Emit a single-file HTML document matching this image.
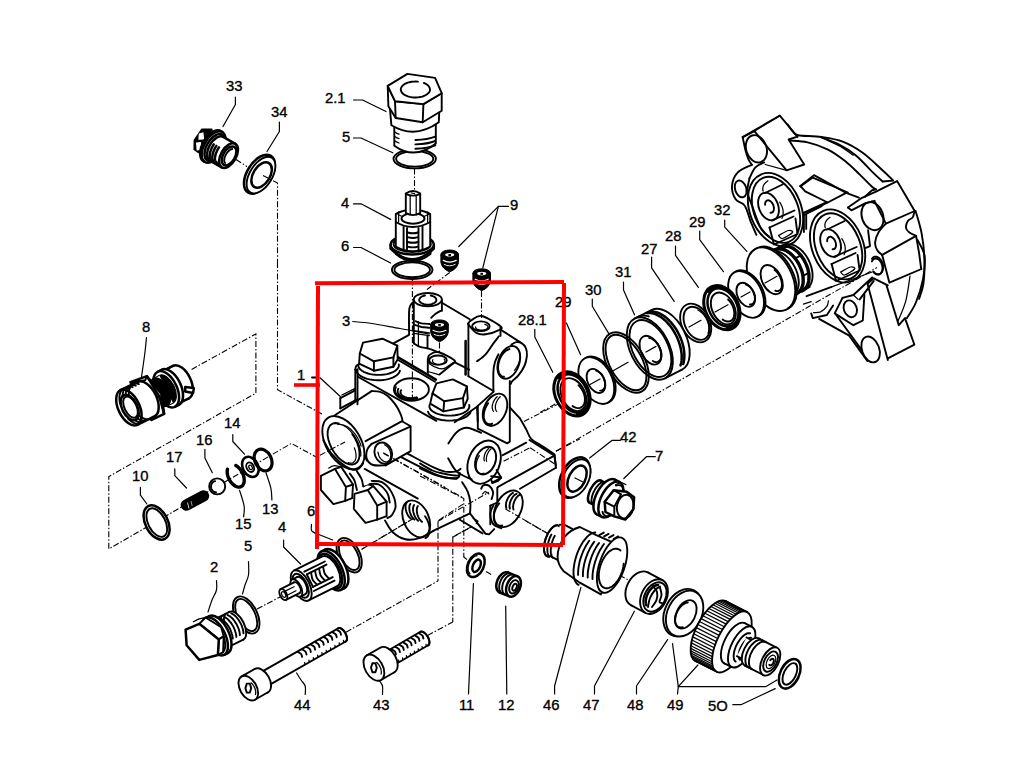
<!DOCTYPE html>
<html><head><meta charset="utf-8"><title>Exploded view</title>
<style>
html,body{margin:0;padding:0;background:#fff;}
body{width:1024px;height:768px;overflow:hidden;font-family:"Liberation Sans",sans-serif;}
svg{display:block;}
svg text{font-family:"Liberation Sans",sans-serif;font-size:14.8px;fill:#000;stroke:#000;stroke-width:0.35;}
.k{fill:none;stroke:#000;stroke-width:1.9;stroke-linecap:round;stroke-linejoin:round;}
.w{fill:#fff;stroke:#000;stroke-width:1.9;stroke-linecap:round;stroke-linejoin:round;}
.t{fill:none;stroke:#000;stroke-width:1.25;stroke-linecap:round;stroke-linejoin:round;}
.tw{fill:#fff;stroke:#000;stroke-width:1.25;stroke-linecap:round;stroke-linejoin:round;}
.h{fill:none;stroke:#000;stroke-width:2.5;stroke-linecap:round;stroke-linejoin:round;}
.hw{fill:#fff;stroke:#000;stroke-width:2.5;stroke-linecap:round;stroke-linejoin:round;}
.l{fill:none;stroke:#000;stroke-width:1.2;stroke-linecap:round;stroke-linejoin:round;}
.d{fill:none;stroke:#000;stroke-width:1.1;stroke-dasharray:6 2 1.5 2;}
.b{fill:#000;stroke:#000;stroke-width:1;stroke-linejoin:round;}
.r{fill:none;stroke:#f00;stroke-width:4;}
</style></head><body>
<svg width="1024" height="768" viewBox="0 0 1024 768">
<rect x="0" y="0" width="1024" height="768" fill="#fff"/>
<!-- 10_topleft.svg -->
<g id="topleft">
<path class="l" d="M235.4 97 L235.4 104.5 L223 126.5"/>
<path class="l" d="M279.4 122 L279.4 131.5 L267 151.5"/>
<path d="M201.9 129.3 L211.8 129.3 L213 141 L207 153.4 L198.4 152.4 L194.2 149.4 L194.4 140.3 Z" fill="#000" stroke="#000" stroke-width="1.6" stroke-linejoin="round"/>
<path d="M198.8 133.6 L203.4 132.3 L204.2 139.4 L198.3 139.8 Z" fill="#fff"/>
<path d="M196 142.4 L201 142.1 L201.6 150 L196.6 150.6 Z" fill="#fff"/>
<ellipse class="hw" cx="212.1" cy="146.1" rx="9.5" ry="17.3" transform="rotate(30 212.1 146.1)"/>
<path d="M203.4 161 L205 161.9 L222.3 132 L220.7 131.1 Z" fill="#fff" stroke="none"/>
<line class="h" x1="203.4" y1="161" x2="205" y2="161.9"/>
<line class="h" x1="220.7" y1="131.1" x2="222.3" y2="132"/>
<ellipse class="hw" cx="213.6" cy="147" rx="9.5" ry="17.3" transform="rotate(30 213.6 147)"/>
<ellipse class="hw" cx="214.8" cy="147.6" rx="8.3" ry="14.8" transform="rotate(30 214.8 147.6)"/>
<ellipse class="hw" cx="216.4" cy="148.6" rx="7.5" ry="13.6" transform="rotate(30 216.4 148.6)"/>
<path d="M209.6 160.3 L221.7 167.3 L235.3 143.8 L223.2 136.8 Z" fill="#fff" stroke="none"/>
<line class="h" x1="209.6" y1="160.3" x2="221.7" y2="167.3"/>
<line class="h" x1="223.2" y1="136.8" x2="235.3" y2="143.8"/>
<path class="h" d="M216.4 162 L215.6 162.1 L214.8 162.2 L214 162.2 L213.3 162.1 L212.6 161.8 L212 161.5 L211.5 161 L211 160.5 L210.6 159.8 L210.3 159.1 L210 158.3 L209.8 157.4 L209.7 156.5 L209.7 155.5 L209.8 154.4 L210 153.3 L210.2 152.2 L210.5 151.1 L210.9 149.9 L211.4 148.8 L211.9 147.6 L212.5 146.5 L213.1 145.4 L213.8 144.4"/>
<path class="h" d="M219 163.5 L218.2 163.6 L217.4 163.7 L216.6 163.7 L215.9 163.6 L215.2 163.3 L214.6 163 L214.1 162.5 L213.6 162 L213.2 161.3 L212.9 160.6 L212.6 159.8 L212.4 158.9 L212.3 158 L212.3 157 L212.4 155.9 L212.6 154.8 L212.8 153.7 L213.1 152.6 L213.5 151.4 L214 150.3 L214.5 149.1 L215.1 148 L215.7 146.9 L216.4 145.9"/>
<path class="h" d="M221.6 165 L220.8 165.1 L220 165.2 L219.2 165.2 L218.5 165.1 L217.8 164.8 L217.2 164.5 L216.7 164 L216.2 163.5 L215.8 162.8 L215.5 162.1 L215.2 161.3 L215 160.4 L214.9 159.5 L214.9 158.5 L215 157.4 L215.2 156.3 L215.4 155.2 L215.7 154.1 L216.1 152.9 L216.6 151.8 L217.1 150.6 L217.7 149.5 L218.3 148.4 L219 147.4"/>
<ellipse class="hw" cx="228.5" cy="155.6" rx="7.6" ry="13.6" transform="rotate(30 228.5 155.6)"/>
<ellipse class="hw" cx="229.1" cy="155.9" rx="5.9" ry="10.4" transform="rotate(30 229.1 155.9)"/>
<path class="k" d="M225.1 163 L224.8 162.6 L224.5 162.1 L224.4 161.6 L224.3 161 L224.2 160.3 L224.3 159.6 L224.4 158.9 L224.5 158.1 L224.7 157.3 L225 156.5 L225.4 155.7 L225.7 154.9 L226.2 154.1 L226.7 153.3 L227.2 152.6 L227.7 151.9 L228.3 151.3 L228.9 150.8 L229.5 150.3 L230 149.8 L230.6 149.5 L231.2 149.2 L231.8 149.1 L232.3 149"/>
<ellipse class="hw" cx="259.4" cy="174.2" rx="12.2" ry="21.6" transform="rotate(32 259.4 174.2)"/>
<ellipse class="w" cx="261" cy="175.1" rx="11.2" ry="20.4" transform="rotate(32 261 175.1)"/>
<ellipse class="hw" cx="261.6" cy="175" rx="8.4" ry="14" transform="rotate(32 261.6 175)"/>
<path class="d" d="M236 159.5 L247 166.5"/>
<path class="d" d="M263 175.5 L277.5 183 L277.5 262"/>
</g>

<!-- 20_topcol.svg -->
<g id="topcol">
<path class="l" d="M353.5 100 L362.5 100 L386 111.5"/>
<path class="l" d="M353.5 138 L361 138 L392.8 152.8"/>
<path class="l" d="M353.5 203.8 L361 203.8 L390.6 219.4"/>
<path class="l" d="M353.5 247.5 L361 247.5 L390.6 263"/>
<path class="l" d="M508.5 206.3 L498.4 206.3 L458.8 246.5"/>
<path class="l" d="M498.4 206.3 L482.8 267.8"/>
<ellipse class="w" cx="414.7" cy="158.8" rx="21.2" ry="9.6"/>
<ellipse class="w" cx="414.7" cy="158.8" rx="18.6" ry="7.8"/>
<path class="w" d="M394.3 122 L394.3 145.7 Q415 160.5 435.8 143.5 L435.8 118 Z"/>
<path class="k" d="M415.4 140 Q428 139.6 435.3 136.6"/>
<path class="t" d="M394.8 132 Q397 133.6 399 134.2"/>
<path class="k" d="M415.4 144.4 Q428 144 435.3 141"/>
<path class="t" d="M394.8 136.4 Q397 138 399 138.6"/>
<path class="k" d="M415.4 148.8 Q428 148.4 435.3 145.4"/>
<path class="t" d="M394.8 140.8 Q397 142.4 399 143"/>
<path class="w" d="M389.9 108 L391.4 125.3 Q415 139.5 438.8 122.3 L439.5 106 Z"/>
<path class="w" d="M387.7 85.9 L395 101.2 L423.4 104.1 L441.7 93.2 L441.7 110.7 L422.7 122.3 L395.7 118 L388.4 106.3 Z"/>
<path class="k" d="M395 101.2 L395.7 118"/>
<path class="k" d="M423.4 104.1 L422.7 122.3"/>
<path class="w" d="M387.7 85.9 L407.4 73.9 L435.1 77.9 L441.7 93.2 L423.4 104.1 L395 101.2 Z"/>
<path class="k" d="M423.8 82.9 L425.4 83.7 L426.9 84.5 L428.1 85.5 L429 86.6 L429.6 87.7 L429.9 88.8 L430 90 L429.7 91.2 L429.1 92.3 L428.2 93.3 L427 94.3 L425.6 95.2 L424 96 L422.2 96.6 L420.2 97 L418.2 97.4 L416.1 97.5 L413.9 97.5 L411.8 97.3 L409.8 96.9 L407.9 96.4 L406.2 95.7 L404.6 94.9 L403.3 94 L402.2 93 L401.5 91.9 L401 90.7 L400.8 89.6 L400.9 88.4 L401.4 87.3 L402.1 86.2 L403.2 85.1 L404.4 84.2 L406 83.4 L407.7 82.7 L409.6 82.2 L411.6 81.8 L413.7 81.6 L415.8 81.5 L417.9 81.6"/>
<ellipse class="w" cx="412.2" cy="269.8" rx="20.3" ry="9.2"/>
<ellipse class="w" cx="412.2" cy="269.8" rx="17.8" ry="7.4"/>
<path class="w" d="M395.8 250 L395.8 254 Q412.5 268 430.5 254 L430.5 250 Z"/>
<path class="hw" d="M390.6 244.8 L390.6 248.5 Q412.2 270 433.8 248.5 L433.8 244.8 Z"/>
<ellipse class="hw" cx="412.2" cy="244.8" rx="21.6" ry="9.6"/>
<ellipse class="k" cx="412.2" cy="244.2" rx="18.6" ry="7.8"/>
<path class="w" d="M395.8 214 L395.8 246.5 Q412.5 256 430.2 246.5 L430.2 214 Q412.5 205 395.8 214 Z"/>
<path class="k" d="M403.6 226 L403.6 250.5"/>
<path class="k" d="M407 228 L407 251.5"/>
<path class="k" d="M418.5 228 L418.5 251.5"/>
<path class="k" d="M422.5 226 L422.5 250.5"/>
<path class="k" d="M407.6 232.5 Q413 234.1 418 232.5"/>
<path class="k" d="M407.6 237.2 Q413 238.8 418 237.2"/>
<path class="k" d="M407.6 242 Q413 243.6 418 242"/>
<path class="k" d="M407.6 246.6 Q413 248.2 418 246.6"/>
<path class="k" d="M395.8 222 Q412.5 232 430.2 222"/>
<path class="t" d="M398 214.5 Q412.5 222.5 428.5 214.5"/>
<ellipse class="w" cx="413" cy="218.5" rx="11.5" ry="5.2"/>
<path class="t" d="M396 214 L398.6 212 L398.6 222"/>
<path class="t" d="M430 214 L427.6 212 L427.6 222"/>
<path class="w" d="M405.8 193.5 L405.8 213.2 Q413 217 420.2 213.2 L420.2 193.5 Q413 188.5 405.8 193.5 Z"/>
<path class="k" d="M405.8 193.8 Q413 197.4 420.2 193.8"/>
<path class="t" d="M410.2 196 L410.2 214.5"/>
<path class="t" d="M416.2 196 L416.2 214.5"/>
<path class="t" d="M411.5 193 L414.5 193.6"/>
<path class="b" d="M440.9 254.4 L440.9 262.4 Q442.1 268.9 449.7 271.9 Q457.3 268.9 458.5 262.4 L458.5 254.4 Z"/>
<ellipse class="b" cx="449.7" cy="254.4" rx="8.8" ry="4.4"/>
<ellipse class="tw" cx="449.7" cy="254.8" rx="5.2" ry="2.4"/>
<rect x="448.4" y="254" width="2.6" height="2" fill="#000"/>
<path class="t" d="M443.2 260.4 Q449.7 263.8 456.2 260.4" style="stroke:#fff;stroke-width:1.2"/>
<path class="t" d="M444.2 264.4 Q449.7 267.4 455.2 264.4" style="stroke:#fff;stroke-width:0.9"/>
<path class="b" d="M472.9 273.2 L472.9 281.2 Q474.1 287.7 481.7 290.7 Q489.3 287.7 490.5 281.2 L490.5 273.2 Z"/>
<ellipse class="b" cx="481.7" cy="273.2" rx="8.8" ry="4.4"/>
<ellipse class="tw" cx="481.7" cy="273.6" rx="5.2" ry="2.4"/>
<rect x="480.4" y="272.8" width="2.6" height="2" fill="#000"/>
<path class="t" d="M475.2 279.2 Q481.7 282.6 488.2 279.2" style="stroke:#fff;stroke-width:1.2"/>
<path class="t" d="M476.2 283.2 Q481.7 286.2 487.2 283.2" style="stroke:#fff;stroke-width:0.9"/>
<path class="d" d="M414.5 168.5 L414.5 190"/>
<path class="d" d="M412.4 279.5 L412.4 402"/>
<path class="d" d="M449.7 272.5 L427 289.5"/>
<path class="d" d="M481.5 291 L481.5 318"/>
</g>

<!-- 30_block.svg -->
<g id="block">
<path class="k" d="M312 377.5 L316 377.5"/>
<path class="l" d="M320 377.7 L340.3 396.5"/>
<path class="l" d="M352.8 321.5 C356 321.8 364.1 322.3 372 323.5 C379.9 324.7 390.4 326.8 400 328.5 C409.6 330.2 424.5 333.1 429.4 334"/>
<path class="l" d="M534.8 329.3 L534.8 337.1 L552.8 372.3"/>
<ellipse class="k" cx="427.8" cy="299.6" rx="14.1" ry="6.6"/>
<path class="k" d="M430.8 295.5 L432.5 296 L434.1 296.7 L435.3 297.6 L436 298.6 L436.4 299.7 L436.3 300.8 L435.7 301.8 L434.7 302.7 L433.3 303.5 L431.7 304.1 L429.8 304.5 L427.8 304.6 L425.8 304.5 L424 304.1 L422.3 303.5 L420.9 302.7 L419.9 301.8 L419.3 300.8 L419.2 299.7 L419.6 298.6 L420.4 297.6 L421.6 296.7 L423.1 296 L424.9 295.5"/>
<path class="k" d="M413.8 300.4 L413.8 343.4"/>
<path class="k" d="M441.9 300.4 L441.9 310.9"/>
<path class="k" d="M414.1 301.5 C413.5 302.1 411.5 303.5 410.6 305.1 C409.8 306.7 409.3 306.5 409.1 311.3 C408.8 316.2 409.1 330.2 409.1 334"/>
<path class="k" d="M413.8 343.4 C414.8 343.9 417.4 345.9 420 346.8 C422.6 347.7 426.4 348 429.4 348.8 C432.4 349.7 436.5 351.6 438 352.1"/>
<path class="k" d="M427.5 336.3 L427.5 348.4"/>
<path class="k" d="M415.6 321.2 C416.6 321.6 419.3 322.9 421.6 323.4 C423.9 323.8 428.1 323.9 429.4 324"/>
<path class="k" d="M414.7 324.9 C415.8 325.3 419.1 326.5 421.6 327 C424 327.4 428.1 327.6 429.4 327.8"/>
<path class="t" d="M413.8 330.6 L429.4 332.8"/>
<path class="t" d="M413.8 333.4 L429.4 335.6"/>
<path class="k" d="M440.6 310.9 C439.8 311.3 437.2 312.5 435.6 313.7 C434.1 314.8 432 317.1 431.2 317.8"/>
<path class="t" d="M418.4 321.5 L418.4 346.5"/>
<path class="k" d="M441.9 302.8 L469.7 319.3"/>
<path class="w" d="M359.8 353.5 L363 342.6 L382.5 338.7 L397.3 345.7 L393.4 357.4 L373.9 361.3 Z"/>
<path class="k" d="M359.8 353.5 L359.1 363.7 L373.9 370.7 L393.4 366.8 L397.7 359.3 L397.3 345.7"/>
<path class="k" d="M373.9 361.3 L373.9 370.7"/>
<path class="k" d="M393.4 357.4 L393.4 366.8"/>
<path class="k" d="M398.8 364.4 L398.9 365.7 L398.5 367.1 L397.8 368.4 L396.7 369.6 L395.3 370.7 L393.6 371.8 L391.5 372.7 L389.3 373.5 L386.8 374.1 L384.1 374.6 L381.4 374.8 L378.6 374.9 L375.8 374.8 L373.1 374.6 L370.4 374.1 L367.9 373.5 L365.7 372.7 L363.6 371.8 L361.9 370.7 L360.4 369.6 L359.4 368.4 L358.6 367.1 L358.3 365.7 L358.4 364.4"/>
<path class="k" d="M399.9 370.6 L399.5 371.9 L398.8 373.2 L397.7 374.4 L396.3 375.5 L394.6 376.6 L392.7 377.6 L390.5 378.4 L388.2 379.1 L385.7 379.6 L383 380 L380.3 380.2 L377.6 380.2 L374.8 380.1 L372.1 379.8 L369.5 379.4 L367.1 378.8 L364.8 378 L362.7 377.2 L360.9 376.2 L359.3 375.1 L358.1 373.9 L357.1 372.6 L356.5 371.3 L356.3 370"/>
<path class="k" d="M359.4 364 C358.9 364.3 356.9 365.1 356.2 366 C355.6 367 355.5 369 355.3 369.6"/>
<path class="k" d="M357.5 369.2 L357.5 404.3"/>
<path class="k" d="M355.3 369.6 L355.3 399.9"/>
<path class="k" d="M393.4 343.4 L409.1 334.8"/>
<path class="h" d="M398.1 357.4 L435.9 379.6"/>
<path class="k" d="M398.6 360.2 L435 381.8"/>
<path class="k" d="M427.8 359.8 C428.1 359 427.7 356.4 429.4 355.1 C431.1 353.8 433.8 351.1 438 352 C442.1 352.8 451.8 358.3 454.4 360.2 C456.9 362.2 453.3 362.9 453.1 363.4"/>
<path class="k" d="M453.1 363.4 L439.5 374.6"/>
<path class="t" d="M427.8 359.8 C428.1 360.4 427.6 362.3 429.4 363.7 C431.2 365.1 436.1 367.6 438.8 368.4 C441.4 369.1 442.7 369 445 368.1 C447.3 367.2 451.5 363.8 452.8 362.9"/>
<ellipse class="k" cx="438" cy="360.2" rx="8.8" ry="4.7"/>
<path class="t" d="M444.2 359.2 L444.6 359.7 L444.9 360.2 L445 360.8 L444.9 361.4 L444.7 361.9 L444.3 362.5 L443.7 362.9 L443 363.4 L442.2 363.7 L441.3 364 L440.3 364.2 L439.3 364.3 L438.3 364.3 L437.2 364.2 L436.2 364 L435.3 363.7 L434.5 363.4 L433.8 363 L433.2 362.5 L432.8 362 L432.6 361.4 L432.5 360.8 L432.6 360.3 L432.9 359.7"/>
<path class="k" d="M427.8 359.8 L427.8 374.6"/>
<path class="t" d="M438.8 374.6 L427.8 371.5"/>
<path class="k" d="M454.4 362.1 L469.2 369.6"/>
<ellipse class="k" cx="411.4" cy="389.5" rx="17.5" ry="11.2"/>
<path class="k" d="M417.3 398.2 L415.9 398.6 L414.5 398.9 L413.1 399.2 L411.6 399.3 L410.1 399.4 L408.6 399.3 L407.1 399.2 L405.6 399 L404.2 398.7 L402.8 398.3 L401.5 397.8 L400.3 397.3 L399.2 396.6 L398.2 395.9 L397.3 395.2 L396.6 394.4 L396 393.5 L395.5 392.7 L395.2 391.8 L395 390.8 L395 389.9 L395.2 389 L395.5 388.1 L395.9 387.2"/>
<path class="k" d="M416.9 397.7 L415.7 398.1 L414.5 398.4 L413.2 398.6 L412 398.7 L410.7 398.7 L409.4 398.7 L408.1 398.6 L406.8 398.4 L405.6 398.2 L404.4 397.9 L403.3 397.5 L402.2 397 L401.3 396.5 L400.4 395.9 L399.7 395.3 L399 394.6 L398.5 393.9 L398.1 393.2 L397.8 392.4 L397.7 391.7 L397.7 390.9 L397.8 390.2 L398 389.4 L398.4 388.7"/>
<path class="k" d="M416.4 397.3 L415.4 397.6 L414.4 397.8 L413.4 398 L412.3 398.1 L411.2 398.1 L410.2 398.1 L409.1 398 L408 397.9 L407 397.7 L406.1 397.4 L405.1 397.1 L404.3 396.7 L403.5 396.3 L402.8 395.9 L402.1 395.4 L401.6 394.9 L401.2 394.3 L400.8 393.7 L400.6 393.1 L400.5 392.5 L400.5 391.9 L400.6 391.3 L400.8 390.7 L401.1 390.2"/>
<path class="k" d="M468.4 323.1 C468.9 322.3 469.3 321.4 471.6 320.2 C473.8 319.1 476.9 315 481.7 316 C486.5 317 497.6 323.8 500.5 326.2 C503.3 328.5 501.4 328.7 498.9 330.1 C496.4 331.4 489.4 333.9 485.6 334.3 C481.8 334.8 479.1 334.3 476.2 332.8 C473.4 331.2 470.1 326.6 468.8 324.9 C467.4 323.3 468 323.8 468.4 323.1 Z"/>
<ellipse class="k" cx="480.9" cy="326.2" rx="8.8" ry="4.8"/>
<path class="t" d="M484.8 324.3 L485.7 324.6 L486.5 325 L487.1 325.4 L487.6 325.9 L487.9 326.4 L488 327 L487.9 327.5 L487.6 328 L487.1 328.5 L486.5 329 L485.7 329.4 L484.8 329.7 L483.9 329.9 L482.8 330 L481.7 330.1 L480.6 330 L479.6 329.9 L478.6 329.7 L477.7 329.4 L476.9 329 L476.3 328.5 L475.8 328 L475.6 327.5 L475.5 327"/>
<path class="k" d="M468.4 323.8 L468.4 376.2"/>
<path class="h" d="M465.6 341 L465.6 374.6"/>
<path class="k" d="M500.5 327.4 L500.5 335.9"/>
<path class="k" d="M498.9 336.3 C498 337.5 495.7 340.4 493.4 343.4 C491.2 346.4 488.4 351.3 485.6 354.3 C482.9 357.3 478.5 360.2 477 361.3"/>
<path class="k" d="M500.5 329.6 L520 342.1"/>
<path class="k" d="M511.4 344.6 C512.2 344.2 514.4 342.4 516.1 342.1 C517.8 341.9 519.9 342.1 521.6 343.1 C523.2 344.1 525.1 345.9 525.9 348.1 C526.8 350.2 527.1 352.9 526.9 355.9 C526.6 358.9 525.8 362.8 524.4 366 C523 369.3 520.4 372.9 518.4 375.4 C516.5 377.9 513.8 379.4 512.5 380.9 C511.2 382.3 510.9 383.5 510.6 384"/>
<path class="k" d="M498.4 354.3 C497.9 355.6 495.8 359.3 495 362.1 C494.2 365 493.7 366.6 493.4 371.5 C493.2 376.4 493.4 388.4 493.4 391.8"/>
<ellipse class="k" cx="508.8" cy="362.4" rx="10.4" ry="17" transform="rotate(20 508.8 362.4)"/>
<path class="k" d="M504 376.8 L503 376.7 L502 376.3 L501.1 375.7 L500.3 374.9 L499.6 374 L499 372.8 L498.6 371.6 L498.3 370.1 L498.1 368.6 L498.1 367 L498.2 365.3 L498.5 363.6 L498.9 361.9 L499.4 360.2 L500.1 358.5 L500.9 356.9 L501.7 355.4 L502.7 354 L503.7 352.8 L504.8 351.7 L506 350.7 L507.1 350 L508.3 349.5 L509.4 349.1"/>
<path class="t" d="M518.6 349.9 L519 350.4 L519.3 351.1 L519.5 351.7 L519.8 352.5 L519.9 353.2 L520 354.1 L520.1 354.9 L520.1 355.8 L520.1 356.8 L520 357.7 L519.9 358.7 L519.7 359.7 L519.5 360.7 L519.2 361.7 L518.9 362.7 L518.5 363.7 L518.1 364.6 L517.6 365.5 L517.2 366.4 L516.7 367.3 L516.1 368.1 L515.6 368.9 L515 369.6 L514.4 370.2"/>
<path class="k" d="M468.4 376.2 L493.4 391"/>
<ellipse class="k" cx="343.4" cy="442.7" rx="17.2" ry="29.3" transform="rotate(-31 343.4 442.7)"/>
<path class="k" d="M352.2 434 L355 438.3 L357.2 442.9 L358.8 447.6 L359.5 452.1 L359.5 456.1 L358.7 459.5 L357.1 462.2 L354.8 463.9 L352 464.5 L348.7 464.2 L345.2 462.8 L341.5 460.4 L338 457.2 L334.8 453.3 L332 449 L329.9 444.4 L328.4 439.7 L327.6 435.3 L327.7 431.3 L328.6 427.9 L330.2 425.3 L332.6 423.7 L335.4 423 L338.7 423.5"/>
<path class="t" d="M337.8 424.4 L338.9 424.3 L340.1 424.4 L341.4 424.7 L342.7 425.1 L344 425.8 L345.4 426.6 L346.8 427.6 L348.2 428.8 L349.6 430.1 L351 431.6 L352.3 433.1 L353.6 434.8 L354.8 436.6 L355.9 438.4 L356.9 440.2 L357.8 442.1 L358.6 444 L359.3 445.9 L359.9 447.8 L360.3 449.6 L360.6 451.4 L360.8 453 L360.8 454.6 L360.7 456"/>
<path class="t" d="M342.9 425.1 L343.7 425.2 L344.5 425.5 L345.4 425.8 L346.3 426.2 L347.1 426.6 L348 427.2 L348.9 427.8 L349.8 428.6 L350.7 429.3 L351.6 430.2 L352.5 431.1 L353.4 432.1 L354.3 433.1 L355.1 434.2 L355.9 435.3 L356.6 436.4 L357.4 437.6 L358 438.8 L358.7 440 L359.3 441.2 L359.8 442.5 L360.3 443.7 L360.7 444.9 L361.1 446.1"/>
<path class="t" d="M354.4 447.9 L354.8 449.1 L355.2 450.2 L355.5 451.4 L355.7 452.5 L355.9 453.6 L356 454.6 L356.1 455.6 L356 456.6 L356 457.5 L355.8 458.4 L355.6 459.2 L355.4 459.9 L355 460.6 L354.6 461.2 L354.2 461.7 L353.7 462.1 L353.2 462.5 L352.6 462.8 L351.9 463 L351.2 463.1 L350.5 463.1 L349.8 463.1 L349 462.9 L348.2 462.7"/>
<path class="k" d="M334.8 415.3 L371.6 391.1"/>
<path class="k" d="M371.6 391.1 C373 391.2 377.4 391 380.2 391.9 C382.9 392.7 385.4 394.2 388 396.2 C390.5 398.3 393.2 401.5 395.3 404.4 C397.4 407.3 399.3 411.1 400.5 413.8 C401.7 416.4 402.2 419.2 402.5 420.3"/>
<path class="k" d="M365.6 441.2 L402 421.2 L410.6 426.2 L410.6 451.2 L385.6 465.3"/>
<path class="k" d="M371.6 443.8 L410.3 426.6"/>
<path class="k" d="M371.6 443.8 C370.8 444.7 368 447.1 367.2 449.7 C366.4 452.2 365.9 456.5 366.9 459.1 C367.9 461.6 370 464 373.1 465 C376.2 466 383.5 465.3 385.6 465.3"/>
<ellipse class="k" cx="383.3" cy="453.1" rx="8.6" ry="10.8" transform="rotate(-20 383.3 453.1)"/>
<path class="t" d="M384.5 444.8 L385.7 445.4 L386.9 446.3 L388 447.4 L388.9 448.7 L389.7 450.2 L390.3 451.8 L390.6 453.5 L390.8 455.1 L390.7 456.6 L390.4 458.1 L389.9 459.3 L389.2 460.4 L388.3 461.1 L387.3 461.6 L386.2 461.8 L385 461.7 L383.8 461.3 L382.6 460.6 L381.4 459.6 L380.4 458.4 L379.5 457 L378.8 455.4 L378.3 453.8 L378 452.2"/>
<path class="k" d="M364.5 455.2 L366.9 460.6"/>
<path class="w" d="M432.5 393.4 L436.4 383.3 L452.8 379.4 L466.9 386.4 L463 398.1 L444.2 401.2 Z"/>
<path class="k" d="M432.5 393.4 L430.2 403.6 L443.4 411.4 L463.8 407.5 L467.7 398.9 L466.9 386.4"/>
<path class="k" d="M444.2 401.2 L443.4 411.4"/>
<path class="k" d="M463 398.1 L463.8 407.5"/>
<path class="k" d="M469.2 404.9 L469.4 406.3 L469.2 407.6 L468.6 408.9 L467.6 410.2 L466.2 411.3 L464.5 412.4 L462.5 413.3 L460.2 414.1 L457.7 414.8 L455 415.2 L452.2 415.5 L449.4 415.6 L446.5 415.5 L443.8 415.2 L441.1 414.8 L438.6 414.1 L436.3 413.3 L434.3 412.4 L432.6 411.3 L431.2 410.2 L430.2 408.9 L429.6 407.6 L429.4 406.3 L429.6 404.9"/>
<path class="k" d="M470.7 411.7 L470.2 413 L469.4 414.1 L468.3 415.2 L467 416.3 L465.4 417.2 L463.5 418.1 L461.5 418.8 L459.3 419.5 L456.9 420 L454.5 420.3 L451.9 420.6 L449.4 420.6 L446.8 420.6 L444.3 420.3 L441.8 420 L439.5 419.5 L437.3 418.8 L435.2 418.1 L433.4 417.2 L431.8 416.3 L430.4 415.2 L429.3 414.1 L428.5 413 L428 411.7"/>
<path class="k" d="M358.3 377 L436.4 420.8"/>
<path class="k" d="M454.7 422.3 L477 406.7"/>
<path class="k" d="M477 406.7 L477.8 421.6"/>
<path class="k" d="M340.3 398.1 L355.2 390.3"/>
<path class="t" d="M341.9 395 L355.2 388.4"/>
<path class="k" d="M340.3 398.1 L340.3 408.3"/>
<path class="k" d="M340.3 408.3 L356.7 399.7"/>
<path class="k" d="M407.5 453.6 C411.9 455.9 427.8 464.7 434.1 467.7 C440.3 470.7 441.4 470.9 445 471.6 C448.6 472.2 453.3 472 455.9 471.6 C458.5 471.1 459.8 469.2 460.6 468.8"/>
<path class="k" d="M401.2 457.2 C405.9 459.6 422.3 468.3 429.4 471.6 C436.4 474.9 438.8 476 443.4 477 C448.1 478.1 454.8 478.5 457.5 477.8 C460.2 477.2 459.5 473.9 459.8 473.1"/>
<path class="k" d="M481.2 432.8 C478.9 432 471 427.9 466.9 427.8 C462.8 427.7 459.8 429.6 456.7 432.2 C453.6 434.8 449.8 441.6 448.4 443.4"/>
<path class="k" d="M448.1 458.3 C449.6 460.5 452.8 468 456.7 471.6 C460.6 475.1 469.1 478.1 471.6 479.4"/>
<ellipse class="k" cx="495" cy="409.8" rx="11" ry="17" transform="rotate(25 495 409.8)"/>
<path class="k" d="M492.2 423.7 L491.2 424 L490.2 424.1 L489.3 424.1 L488.5 424 L487.6 423.7 L486.9 423.3 L486.2 422.7 L485.6 422.1 L485 421.3 L484.6 420.4 L484.2 419.4 L484 418.3 L483.8 417.2 L483.7 416 L483.8 414.7 L483.9 413.4 L484.1 412.1 L484.5 410.8 L484.9 409.4 L485.4 408.1 L486 406.8 L486.7 405.5 L487.4 404.3 L488.2 403.2"/>
<path class="t" d="M493.6 411.3 L493.3 410.9 L493 410.5 L492.8 410.1 L492.6 409.6 L492.4 409.1 L492.3 408.5 L492.2 407.9 L492.2 407.2 L492.2 406.5 L492.3 405.8 L492.4 405.1 L492.6 404.4 L492.8 403.7 L493 402.9 L493.3 402.2 L493.6 401.5 L493.9 400.8 L494.3 400.1 L494.7 399.4 L495.2 398.8 L495.6 398.2 L496.1 397.7 L496.6 397.2 L497.1 396.7"/>
<path class="t" d="M496.7 411.3 L496.4 410.9 L496.1 410.5 L495.9 410.1 L495.7 409.6 L495.5 409.1 L495.4 408.5 L495.4 407.9 L495.3 407.2 L495.4 406.5 L495.4 405.8 L495.5 405.1 L495.7 404.4 L495.9 403.7 L496.1 402.9 L496.4 402.2 L496.7 401.5 L497.1 400.8 L497.4 400.1 L497.9 399.4 L498.3 398.8 L498.8 398.2 L499.2 397.7 L499.7 397.2 L500.2 396.7"/>
<path class="k" d="M477.8 405.9 L477.8 428.1"/>
<path class="k" d="M477.8 405.9 L493.4 391.9"/>
<path class="k" d="M509.8 380.9 L509.8 441.6 L507.2 443.4 L477.8 428.6"/>
<path class="k" d="M509.8 407.5 L520 418.4"/>
<path class="k" d="M520 418.4 C521 420.3 524.4 426 526.2 429.4 C528.1 432.8 528.4 435.8 531.2 438.8 C534.1 441.7 539.6 444.3 543.4 446.9 C547.3 449.5 552.6 453.1 554.4 454.4"/>
<path class="k" d="M554.4 454.4 L555.9 465.6"/>
<path class="k" d="M526.2 442.7 L502.8 455.2"/>
<path class="d" d="M529.4 448.1 L501.6 462.2"/>
<path class="d" d="M530.2 447.8 L554.4 463.8"/>
<ellipse class="k" cx="484.1" cy="462.2" rx="15.6" ry="22.4" transform="rotate(22 484.1 462.2)"/>
<ellipse class="k" cx="485.6" cy="460.6" rx="9.8" ry="14.4" transform="rotate(22 485.6 460.6)"/>
<path class="t" d="M484 473.2 L483.1 473.5 L482.3 473.6 L481.5 473.7 L480.7 473.6 L480 473.4 L479.3 473 L478.7 472.6 L478.1 472 L477.6 471.4 L477.1 470.6 L476.8 469.8 L476.5 468.9 L476.3 467.9 L476.1 466.9 L476.1 465.8 L476.1 464.7 L476.3 463.5 L476.5 462.4 L476.8 461.2 L477.2 460 L477.6 458.9 L478.1 457.8 L478.7 456.7 L479.4 455.7"/>
<path class="t" d="M484.3 460.8 L484.2 460.4 L484.1 460 L484 459.5 L484 459 L484 458.4 L484 457.9 L484.1 457.3 L484.2 456.7 L484.3 456.1 L484.4 455.5 L484.6 454.9 L484.8 454.3 L485 453.7 L485.3 453.1 L485.5 452.5 L485.8 452 L486.1 451.4 L486.5 450.9 L486.8 450.4 L487.2 450 L487.5 449.6 L487.9 449.2 L488.3 448.8 L488.7 448.5"/>
<path class="t" d="M486.6 461.3 L486.5 460.9 L486.4 460.4 L486.4 459.9 L486.3 459.4 L486.3 458.9 L486.4 458.3 L486.4 457.8 L486.5 457.2 L486.6 456.6 L486.8 456 L486.9 455.4 L487.1 454.8 L487.4 454.2 L487.6 453.6 L487.9 453 L488.2 452.5 L488.5 451.9 L488.8 451.4 L489.2 450.9 L489.5 450.5 L489.9 450 L490.2 449.6 L490.6 449.3 L491 449"/>
<path class="k" d="M496.6 470 L501.2 477.8 L492.2 482.5 L491.1 479.4"/>
<path class="d" d="M523.9 421.6 L560.6 402.8"/>
<path class="d" d="M555.9 451.2 L580 438.8"/>
<path class="d" d="M320 455.2 L345 441.9"/>
<path class="d" d="M383.3 452.8 L445 487.2"/>
<path class="w" d="M320.9 475.9 L335 468.9 L345.9 486.9 L345.2 500.9 L333.4 504.1 L320.9 490 Z"/>
<path class="k" d="M335 468.9 L341.2 466.9 L353 484.5 L352.2 498.1 L345.2 500.9"/>
<path class="k" d="M345.9 486.9 L353 484.5"/>
<path class="t" d="M328.8 468.1 C329.5 467.7 331.6 466 333.4 465.8 C335.3 465.5 338.6 466.4 339.7 466.6"/>
<path class="w" d="M354.5 493.9 L367.8 490 L377.2 505.6 L377.2 519.7 L365.5 522.8 L353.8 508.8 Z"/>
<path class="k" d="M367.8 490 L373.3 486.1 L386.6 501.7 L386.6 516.2 L377.2 519.7"/>
<path class="k" d="M377.2 505.6 L386.6 501.7"/>
<path class="t" d="M363.1 486.9 C363.9 486.6 366.1 485.1 367.8 485 C369.5 484.9 372.4 485.9 373.3 486.1"/>
<path class="k" d="M371.7 480.9 C373.4 481.1 378.6 480.4 381.9 482.2 C385.1 484 389 487.7 391.2 491.6 C393.5 495.5 395.5 501.7 395.6 505.6 C395.8 509.5 393.4 512.9 392 515 C390.7 517.1 388.1 517.6 387.3 518.1"/>
<path class="k" d="M369.4 484.1 C370.9 484.1 375.8 483 378.8 484.5 C381.7 486 385.5 490.1 387.3 493.1 C389.2 496.1 389.3 500.9 389.7 502.5"/>
<path class="k" d="M349.8 473.6 C350.6 474.8 353.4 477.9 354.5 480.6 C355.7 483.4 356.5 488.4 356.9 490"/>
<path class="k" d="M356.9 471.2 C357.7 472.6 360.5 476.6 361.6 479.1 C362.6 481.5 362.9 484.9 363.1 486.1"/>
<path class="k" d="M323.3 440 C324.7 442.3 328.1 449.6 331.9 454.1 C335.7 458.5 341.8 464 345.9 466.6 C350.1 469.2 354 470.2 356.9 469.7 C359.7 469.2 362.1 464.5 363.1 463.4"/>
<ellipse class="k" cx="416.2" cy="518.9" rx="12.6" ry="19.4" transform="rotate(-24 416.2 518.9)"/>
<path class="k" d="M410.7 518.6 L410.2 518.1 L409.7 517.7 L409.3 517.1 L408.8 516.6 L408.4 515.9 L407.9 515.3 L407.6 514.6 L407.2 513.9 L406.9 513.1 L406.6 512.3 L406.3 511.6 L406.1 510.8 L405.9 510 L405.7 509.2 L405.6 508.4 L405.6 507.6 L405.5 506.9 L405.6 506.2 L405.6 505.5 L405.7 504.9 L405.9 504.3 L406.1 503.7 L406.3 503.3 L406.6 502.8"/>
<path class="k" d="M414.5 519.7 L414 519.2 L413.5 518.8 L413 518.2 L412.6 517.7 L412.1 517 L411.7 516.4 L411.3 515.7 L410.9 515 L410.6 514.2 L410.3 513.4 L410 512.6 L409.8 511.9 L409.6 511.1 L409.5 510.3 L409.4 509.5 L409.3 508.7 L409.3 508 L409.3 507.3 L409.4 506.6 L409.5 506 L409.6 505.4 L409.8 504.8 L410.1 504.4 L410.3 503.9"/>
<path class="k" d="M418.2 520.8 L417.7 520.3 L417.2 519.9 L416.8 519.3 L416.3 518.8 L415.9 518.1 L415.4 517.5 L415.1 516.8 L414.7 516 L414.4 515.3 L414.1 514.5 L413.8 513.7 L413.6 512.9 L413.4 512.2 L413.2 511.4 L413.1 510.6 L413.1 509.8 L413 509.1 L413.1 508.4 L413.1 507.7 L413.2 507.1 L413.4 506.5 L413.6 505.9 L413.8 505.4 L414.1 505"/>
<path class="k" d="M422 521.8 L421.5 521.4 L421 521 L420.5 520.4 L420.1 519.9 L419.6 519.2 L419.2 518.6 L418.8 517.9 L418.4 517.1 L418.1 516.4 L417.8 515.6 L417.5 514.8 L417.3 514 L417.1 513.2 L417 512.5 L416.9 511.7 L416.8 510.9 L416.8 510.2 L416.8 509.5 L416.9 508.8 L417 508.2 L417.1 507.6 L417.3 507 L417.6 506.5 L417.8 506.1"/>
<path class="k" d="M425 516.2 L425.7 517.2 L426.3 518.2 L426.9 519.2 L427.4 520.3 L427.9 521.4 L428.3 522.5 L428.7 523.7 L429 524.8 L429.2 525.9 L429.4 527.1 L429.6 528.2 L429.6 529.2 L429.6 530.3 L429.5 531.3 L429.4 532.3 L429.2 533.2 L428.9 534 L428.6 534.8 L428.2 535.6 L427.8 536.2 L427.3 536.8 L426.7 537.3 L426.1 537.7 L425.5 538.1"/>
<path class="k" d="M385 520.5 C386.3 522.4 389.4 529.1 392.8 532.2 C396.2 535.3 400.9 538.2 405.3 539.2 C409.7 540.2 414.7 539.5 419.4 538.1 C424.1 536.7 431.1 532.1 433.4 530.9"/>
<path class="k" d="M364.7 468.9 L417.8 498.6"/>
<path class="d" d="M383.4 453.3 L463.1 497.8"/>
<path class="d" d="M463.1 504.1 L437.3 521.2"/>
<path class="d" d="M470 527.5 L452.2 537.2"/>
<path class="d" d="M413.9 518.1 L361.6 549.4"/>
<ellipse class="k" cx="508.3" cy="508.8" rx="12.6" ry="19.6" transform="rotate(28 508.3 508.8)"/>
<path class="k" d="M506.4 507.9 L506.2 507.4 L506 506.8 L505.9 506.2 L505.9 505.6 L505.9 504.9 L506 504.1 L506.1 503.4 L506.2 502.6 L506.4 501.8 L506.7 501 L507 500.2 L507.3 499.4 L507.7 498.7 L508.1 497.9 L508.5 497.2 L508.9 496.5 L509.4 495.9 L509.9 495.3 L510.4 494.8 L510.9 494.3 L511.4 493.9 L512 493.5 L512.5 493.2 L513 493"/>
<path class="k" d="M509.9 508.7 L509.8 508.2 L509.6 507.6 L509.5 507 L509.5 506.3 L509.5 505.6 L509.6 504.9 L509.7 504.1 L509.8 503.4 L510 502.6 L510.3 501.8 L510.6 501 L510.9 500.2 L511.3 499.4 L511.7 498.7 L512.1 498 L512.5 497.3 L513 496.7 L513.5 496.1 L514 495.5 L514.5 495.1 L515 494.6 L515.6 494.3 L516.1 494 L516.6 493.8"/>
<path class="k" d="M513.5 509.5 L513.4 509 L513.2 508.4 L513.1 507.8 L513.1 507.1 L513.1 506.4 L513.2 505.7 L513.3 504.9 L513.4 504.1 L513.6 503.4 L513.9 502.6 L514.2 501.8 L514.5 501 L514.8 500.2 L515.2 499.5 L515.7 498.8 L516.1 498.1 L516.6 497.4 L517.1 496.9 L517.6 496.3 L518.1 495.8 L518.6 495.4 L519.2 495.1 L519.7 494.8 L520.2 494.6"/>
<path class="k" d="M502.2 525.5 L501.2 525.7 L500.2 525.8 L499.2 525.7 L498.3 525.5 L497.4 525.2 L496.7 524.7 L496 524.1 L495.3 523.4 L494.8 522.5 L494.4 521.5 L494.1 520.5 L493.9 519.3 L493.8 518.1 L493.8 516.8 L493.9 515.4 L494.1 514 L494.4 512.6 L494.9 511.2 L495.4 509.8 L496 508.4 L496.7 507.1 L497.5 505.8 L498.4 504.5 L499.3 503.4"/>
<path class="k" d="M493.4 505.6 C492.9 506.9 490.3 510.3 490.3 513.4 C490.3 516.6 491.6 521.9 493.4 524.4 C495.3 526.8 499.9 527.6 501.2 528.3"/>
<path class="k" d="M554.4 455.6 L498.1 486.9"/>
<path class="k" d="M555.9 467.8 L520 488.8"/>
<path class="k" d="M554.4 455.6 L555.9 467.8"/>
<path class="k" d="M529.4 440 L554.4 455.6"/>
<path class="k" d="M497.3 487.7 L497.3 502.5"/>
<path class="k" d="M490.3 505.6 L490.3 524.4"/>
<path class="k" d="M490.3 505.6 L497.3 502.5"/>
<path class="k" d="M491.1 476.2 L501.2 477.5 L498.1 480.9 L492.2 483"/>
<path class="k" d="M481.2 488.8 C481.6 488.2 482 485.8 483.3 485.3 C484.5 484.8 487.1 484.5 488.8 485.6 C490.4 486.8 492.7 490.1 493.1 492.3 C493.6 494.6 491.8 497.9 491.6 499.1"/>
<path class="t" d="M482.5 493.9 C483 493.5 484.3 491.6 485.3 491.6 C486.4 491.6 488.2 493.5 488.8 493.9"/>
<path class="k" d="M470 513.4 L485.6 533.8 L489.1 534.4 L494.2 529.1"/>
<path class="k" d="M459.8 519.7 L482.5 533.4"/>
<path class="k" d="M433.1 530.8 L470 513.4"/>
<path class="k" d="M462.2 482.2 C463.1 483.8 466.3 488.2 467.7 491.6 C469 494.9 469.9 498.9 470.3 502.5 C470.7 506.1 470.1 511.6 470 513.4"/>
<path class="k" d="M420 463.4 C422.1 464.6 428.6 468.8 432.5 470.5 C436.4 472.2 439.3 472.7 443.4 473.6 C447.6 474.5 454.8 475.6 457.5 475.6 C460.2 475.6 459.5 473.9 459.8 473.6"/>
<path class="k" d="M420 468.4 C422.3 469.5 429.9 473.2 434.1 474.7 C438.2 476.2 441.2 476.8 445 477.5 C448.8 478.2 454.8 478.5 456.7 478.8"/>
<path class="d" d="M420 475.9 L463.8 498.6 L463.8 557.2"/>
<path class="d" d="M438 521.2 L438 580.9"/>
<path class="d" d="M438 521.2 L488.8 492.3"/>
<path class="d" d="M452.8 537.2 L452.8 622"/>
<path class="d" d="M452.8 537.2 L471.6 526.7"/>
<path class="d" d="M505.2 508.8 L548.1 533.8"/>
<path class="t" d="M473.1 518.1 L478.1 521.2 L476.2 523.6"/>
</g>

<!-- 35_screw3.svg -->
<g id="screw3">
<path class="b" d="M430.7 324.3 L430.7 332.3 Q431.9 338.8 439.5 341.8 Q447.1 338.8 448.3 332.3 L448.3 324.3 Z"/>
<ellipse class="b" cx="439.5" cy="324.3" rx="8.8" ry="4.4"/>
<ellipse class="tw" cx="439.5" cy="324.7" rx="5.2" ry="2.4"/>
<rect x="438.2" y="323.9" width="2.6" height="2" fill="#000"/>
<path class="t" d="M433 330.3 Q439.5 333.7 446 330.3" style="stroke:#fff;stroke-width:1.2"/>
<path class="t" d="M434 334.3 Q439.5 337.3 445 334.3" style="stroke:#fff;stroke-width:0.9"/>
<path class="d" d="M439.5 342.5 L439.5 353"/>
</g>

<!-- 40_right.svg -->
<g id="right">
<path class="l" d="M566.4 323 L580.6 354.7"/>
<path class="l" d="M592.3 299 L592.3 306.3 L608.8 333.6"/>
<path class="l" d="M623.5 282 L623.5 290 L634.5 314.8"/>
<path class="l" d="M651.6 257 L651.6 267.8 L674.2 301.4"/>
<path class="l" d="M675.5 246 L675.5 255.3 L698.4 287.3"/>
<path class="l" d="M699.7 231 L699.7 239.7 L723.4 271.7"/>
<path class="l" d="M724.7 220.2 L724.7 227.2 L746.9 251.4"/>
<path class="d" d="M540 412.5 L556 403.6"/>
<path class="d" d="M556 451.3 L877 267.6"/>
<path class="k" d="M742.7 137.1 L779.8 115.6 L797.4 136.7"/>
<path class="k" d="M742.7 137.1 L754.4 131.2 L786.6 170.3 L804.2 164.5 L788.6 139.5 L797.4 136.7"/>
<path class="t" d="M754.4 131.2 L779.8 115.6"/>
<ellipse class="k" cx="756.4" cy="148.8" rx="10.2" ry="14" transform="rotate(-18 756.4 148.8)"/>
<path class="k" d="M742.7 137.1 C743.2 139.4 744.6 147 745.6 150.8 C746.6 154.5 747.5 157.2 748.6 159.6 C749.6 161.9 751.3 164 751.9 164.8"/>
<path class="k" d="M751.9 164.8 C749.5 166.1 741.1 168.8 737.8 172.3 C734.5 175.8 732.3 181.4 732 185.9 C731.6 190.5 733.7 196.4 735.9 199.6 C738 202.9 742.2 201.9 744.6 205.5 C747.1 209 748.6 216.2 750.5 221.1 C752.5 226 755.4 232.5 756.4 234.8"/>
<path class="k" d="M764.2 162.5 C762.7 163.3 757.8 164.8 755.4 167.4 C752.9 170 750.5 176.3 749.5 178.1"/>
<ellipse class="k" cx="740.7" cy="188.9" rx="5.6" ry="8.6" transform="rotate(-18 740.7 188.9)"/>
<path class="k" d="M749.5 178.1 C749.2 180.4 746.9 186.6 747.6 191.8 C748.2 197 751.2 203.2 753.4 209.4 C755.7 215.6 758.6 224.3 761.2 228.9 C763.9 233.5 767.8 235.4 769.1 236.7"/>
<path class="t" d="M765.2 164.5 L786.6 170.3"/>
<path class="k" d="M787.7 124.5 C788.5 125.7 791.2 129.9 792.9 131.7 C794.7 133.5 793.4 134.4 798.2 135.2 C803 136.1 814.2 135.9 821.6 137 C829.1 138.1 835.9 139 842.7 141.7 C849.6 144.3 856.2 148.2 862.7 152.8 C869.1 157.4 876.3 164.6 881.4 169.2 C886.5 173.8 891.2 178.5 893.1 180.4"/>
<path class="k" d="M821.6 137.6 C824.6 138.8 833.6 141.7 839.2 144.6 C844.9 147.5 850.2 150.7 855.6 155.2 C861.1 159.6 867.5 167.2 872 171.6 C876.5 176 880.8 179.9 882.6 181.5"/>
<path class="k" d="M882.6 181.5 L893.1 180.6"/>
<path class="k" d="M790 140.5 C792.9 140.8 801.3 140.8 807.6 142.3 C813.8 143.7 821.3 146.2 827.5 149.3 C833.8 152.4 839.6 156.7 845.1 161 C850.5 165.3 855.8 170.8 860.3 175.1 C864.8 179.4 869.4 184.4 872 186.8 C874.7 189.2 875.5 188.9 876.1 189.4"/>
<path class="k" d="M876.1 189.4 L872 190.3 L865 196.8"/>
<path class="t" d="M825.2 139.3 C827.7 140.5 835.7 143.7 840.4 146.4 C845.1 149 851.1 153.7 853.3 155.2"/>
<path class="k" d="M800.3 185.9 L814 175.2 L846.2 192.8 L858.9 197.7"/>
<path class="k" d="M800.3 185.9 L805.2 191.4 L827.7 202.5 L846.2 192.8"/>
<path class="k" d="M827.7 202.5 L806.2 213.3 L806.2 228.9"/>
<path class="t" d="M821.8 206.4 L804.2 215.2"/>
<path class="k" d="M847.9 207.5 L862 197.8 L876 191.6 L897.1 181.1 L914.7 211 L885.9 223.6 L875.1 202.2 L871.8 201.5"/>
<path class="k" d="M847.9 207.5 L851.4 210.3 L865.5 203.2 L874.6 200.8"/>
<ellipse class="k" cx="872.5" cy="216.2" rx="10.6" ry="14.4" transform="rotate(-20 872.5 216.2)"/>
<path class="k" d="M885.9 223.6 C884.7 225 880.4 228.9 878.7 232.1 C876.9 235.2 875.3 239.5 875.1 242.6 C874.9 245.7 876.2 248.5 877.4 250.5 C878.6 252.6 881.4 254.2 882.2 254.9"/>
<path class="k" d="M882.2 254.9 L916.1 235.9"/>
<path class="k" d="M914.5 211 C914.2 212 913.8 215.7 912.8 217.3 C911.7 218.9 909.1 219.1 908 220.8 C906.9 222.5 905.7 225.5 905.9 227.5 C906.1 229.5 907.7 231.2 909.4 232.6 C911.1 234 915 235.4 916.1 235.9"/>
<path class="k" d="M882.2 254.9 L889.4 282.7 L921.4 269"/>
<path class="k" d="M868.1 230.3 L870 246.1 L865.8 247.9"/>
<path class="k" d="M915.6 211 C916.6 214.8 920.3 225.9 921.7 233.8 C923.2 241.7 924.1 250.2 924.4 258.4 C924.6 266.6 924.4 276.3 923.5 283 C922.6 289.8 919.8 296.2 919.1 298.9"/>
<path class="k" d="M916.1 235.9 C916.6 238.8 918.2 247.7 919.1 253.2 C919.9 258.7 920.8 266.3 921.2 269"/>
<path class="k" d="M872 258.7 L872.8 257.8 L873.7 257.1 L874.8 256.7 L876 256.6 L877.1 256.9 L878.3 257.5 L879.4 258.3 L880.5 259.4 L881.4 260.7 L882.1 262.2 L882.7 263.8 L883 265.4 L883.1 267.1 L883 268.7 L882.7 270.2 L882.2 271.5 L881.5 272.6 L880.6 273.5 L879.6 274 L878.5 274.3 L877.4 274.2 L876.2 273.9 L875 273.2 L873.9 272.2"/>
<ellipse class="k" cx="775.5" cy="209.5" rx="25.5" ry="38" transform="rotate(-22 775.5 209.5)"/>
<ellipse class="k" cx="776" cy="209.8" rx="22" ry="34.5" transform="rotate(-22 776 209.8)"/>
<ellipse class="k" cx="768.5" cy="206.5" rx="9.6" ry="14.4" transform="rotate(-22 768.5 206.5)"/>
<path class="k" d="M765.1 204.8 L765.1 203.7 L765.3 202.7 L765.6 201.8 L766.1 201.2 L766.7 200.7 L767.4 200.4 L768.2 200.3 L769 200.4 L769.8 200.8 L770.7 201.4 L771.4 202.1 L772.2 203 L772.8 204.1 L773.3 205.2 L773.6 206.3 L773.9 207.5 L773.9 208.6 L773.8 209.7 L773.6 210.6 L773.2 211.4 L772.7 212.1 L772 212.5 L771.3 212.7 L770.5 212.7"/>
<path class="k" d="M765 193 L782.5 184.5"/>
<path class="k" d="M772 220.3 L794.5 210.5"/>
<path class="t" d="M779.7 202.2 L780.1 202.8 L780.5 203.4 L780.9 204.1 L781.2 204.8 L781.5 205.4 L781.8 206.1 L782.1 206.8 L782.4 207.6 L782.6 208.3 L782.7 209 L782.9 209.7 L783 210.5 L783.1 211.2 L783.1 211.9 L783.2 212.6 L783.1 213.3 L783.1 214 L783 214.7 L782.9 215.3 L782.8 216 L782.6 216.6 L782.4 217.2 L782.2 217.7 L781.9 218.3"/>
<path class="k" d="M769.5 227.5 L774 244.5 L797.5 234 L795.5 218.5"/>
<path class="k" d="M769.5 227.5 L793.5 216.5"/>
<path class="t" d="M778.5 235.5 C780.2 234.7 786.2 231 788.5 230.5 C790.8 230 793.5 231.2 792.5 232.5 C791.5 233.8 784.8 238 782.5 238.5 C780.2 239 779.2 236 778.5 235.5"/>
<path class="t" d="M763.2 191.2 L763.1 190.8 L762.9 190.4 L762.8 189.9 L762.8 189.4 L762.8 189 L762.8 188.5 L762.8 188 L762.9 187.5 L763 187 L763.1 186.6 L763.3 186.1 L763.5 185.6 L763.7 185.1 L764 184.7 L764.2 184.2 L764.6 183.8 L764.9 183.4 L765.3 182.9 L765.7 182.6 L766.1 182.2 L766.5 181.8 L767 181.5 L767.4 181.1 L767.9 180.8"/>
<ellipse class="k" cx="837.6" cy="246" rx="25.5" ry="38" transform="rotate(-22 837.6 246)"/>
<ellipse class="k" cx="838.1" cy="246.3" rx="22" ry="34.5" transform="rotate(-22 838.1 246.3)"/>
<ellipse class="k" cx="830.6" cy="243" rx="9.6" ry="14.4" transform="rotate(-22 830.6 243)"/>
<path class="k" d="M827.2 241.3 L827.2 240.2 L827.4 239.2 L827.7 238.3 L828.2 237.7 L828.8 237.2 L829.5 236.9 L830.3 236.8 L831.1 236.9 L831.9 237.3 L832.8 237.9 L833.5 238.6 L834.3 239.5 L834.9 240.6 L835.4 241.7 L835.7 242.8 L836 244 L836 245.1 L835.9 246.2 L835.7 247.1 L835.3 247.9 L834.8 248.6 L834.1 249 L833.4 249.2 L832.6 249.2"/>
<path class="k" d="M827.1 229.5 L844.6 221"/>
<path class="k" d="M834.1 256.8 L856.6 247"/>
<path class="t" d="M841.8 238.7 L842.2 239.3 L842.6 239.9 L843 240.6 L843.3 241.3 L843.6 241.9 L843.9 242.6 L844.2 243.3 L844.5 244.1 L844.7 244.8 L844.8 245.5 L845 246.2 L845.1 247 L845.2 247.7 L845.2 248.4 L845.3 249.1 L845.2 249.8 L845.2 250.5 L845.1 251.2 L845 251.8 L844.9 252.5 L844.7 253.1 L844.5 253.7 L844.3 254.2 L844 254.8"/>
<path class="k" d="M831.6 264 L836.1 281 L859.6 270.5 L857.6 255"/>
<path class="k" d="M831.6 264 L855.6 253"/>
<path class="t" d="M840.6 272 C842.3 271.2 848.3 267.5 850.6 267 C852.9 266.5 855.6 267.7 854.6 269 C853.6 270.3 846.9 274.5 844.6 275 C842.3 275.5 841.3 272.5 840.6 272"/>
<path class="t" d="M825.3 227.7 L825.2 227.3 L825 226.9 L824.9 226.4 L824.9 225.9 L824.9 225.5 L824.9 225 L824.9 224.5 L825 224 L825.1 223.5 L825.2 223.1 L825.4 222.6 L825.6 222.1 L825.8 221.6 L826.1 221.2 L826.3 220.7 L826.7 220.3 L827 219.9 L827.4 219.4 L827.8 219.1 L828.2 218.7 L828.6 218.3 L829.1 218 L829.5 217.6 L830 217.3"/>
<path class="k" d="M803.9 212.7 L803.9 232.1"/>
<path class="k" d="M803.9 212.7 L826.8 202.2"/>
<path class="k" d="M800.4 186.4 L812.7 177.6 L847.9 192.5"/>
<path class="k" d="M819.1 318.9 L848.8 335.3 L867.5 361.1"/>
<path class="k" d="M836.2 315 L861.2 349.4"/>
<path class="k" d="M867.5 283.8 L887.8 360"/>
<path class="k" d="M887.8 358.3 L914.4 344.7 L905 318.1 L898.8 325.2 L886.6 285.6"/>
<path class="k" d="M867.5 283.8 L873.8 278.3 L887.8 285.3"/>
<ellipse class="k" cx="870.6" cy="349.4" rx="8.6" ry="13.4" transform="rotate(-20 870.6 349.4)"/>
<ellipse class="k" cx="850.3" cy="308.8" rx="6.4" ry="8.6" transform="rotate(-20 850.3 308.8)"/>
<path class="k" d="M842.5 297.8 L834.7 313.4 L853.4 325.2 L862.8 320.5 L864.4 294.7"/>
<path class="k" d="M842.5 297.8 L853.4 295 L872.2 277.5"/>
<path class="k" d="M859.7 299.4 L873.8 280.9"/>
<path class="t" d="M853.4 295 L858.1 299.4"/>
<path class="k" d="M871.9 261.4 L872.5 260.3 L873.3 259.4 L874.3 258.8 L875.4 258.5 L876.5 258.6 L877.6 259 L878.8 259.7 L879.8 260.7 L880.7 261.9 L881.5 263.4 L882 264.9 L882.4 266.6 L882.5 268.2 L882.4 269.7 L882.1 271.2 L881.5 272.4 L880.8 273.4 L879.9 274.1 L878.8 274.5 L877.7 274.6 L876.6 274.3 L875.5 273.8 L874.4 272.9 L873.4 271.7"/>
<path class="k" d="M917.5 240 C918.7 242.6 923.6 249.1 924.5 255.6 C925.4 262.1 924.4 271.2 923 279.1 C921.5 286.9 918.6 296 915.9 302.5 C913.3 309 908.4 315.5 906.9 318.1"/>
<path class="t" d="M910 276.2 C909.3 280.4 907.8 293.4 905.8 300.9 C903.8 308.4 899.3 317.9 898 321.2"/>
<path class="k" d="M811.2 313.4 L812.8 318.1 L826.9 315 L833.1 305.6"/>
<path class="t" d="M813.6 312.7 C814.8 312.5 818.4 312.9 820.6 311.9 C822.8 310.8 825.6 308.2 826.9 306.4 C828.2 304.6 828.2 301.8 828.4 300.9"/>
<path class="k" d="M806.6 296.2 L831.6 286.9"/>
<path class="t" d="M803.4 304.1 L811.2 301.7"/>
<path class="t" d="M831.6 286.9 L872.2 272"/>
<ellipse class="w" cx="778.1" cy="275.6" rx="15.2" ry="24.5" transform="rotate(-27 778.1 275.6)"/>
<path d="M789.3 297.4 L809.7 287 L787.5 243.3 L767 253.7 Z" fill="#fff" stroke="none"/>
<line class="k" x1="789.3" y1="297.4" x2="809.7" y2="287"/>
<line class="k" x1="767" y1="253.7" x2="787.5" y2="243.3"/>
<path class="k" style="stroke-width:1.9" d="M782.8 245.8 L784.6 244.8 L786.7 244.2 L788.9 244.1 L791.2 244.3 L793.6 245.1 L796 246.2 L798.4 247.7 L800.7 249.6 L803 251.8 L805.1 254.3 L806.9 257.1 L808.6 260 L810 263.1 L811.1 266.3 L811.9 269.4 L812.4 272.5 L812.6 275.5 L812.4 278.4 L811.9 281 L811.1 283.4 L809.9 285.4 L808.5 287.1 L806.9 288.4 L805 289.3"/>
<path class="h" style="stroke-width:3.4" d="M779.2 247.6 L781.1 246.6 L783.1 246 L785.3 245.9 L787.6 246.2 L790 246.9 L792.4 248 L794.8 249.5 L797.2 251.4 L799.4 253.7 L801.5 256.2 L803.4 258.9 L805 261.9 L806.4 264.9 L807.6 268.1 L808.4 271.2 L808.9 274.3 L809 277.3 L808.8 280.2 L808.3 282.8 L807.5 285.2 L806.4 287.2 L805 288.9 L803.3 290.2 L801.4 291.1"/>
<path class="h" style="stroke-width:3.4" d="M773.4 250.6 L775.3 249.6 L777.3 249 L779.5 248.8 L781.8 249.1 L784.2 249.8 L786.7 251 L789.1 252.5 L791.4 254.4 L793.6 256.6 L795.7 259.1 L797.6 261.9 L799.2 264.8 L800.6 267.9 L801.8 271 L802.6 274.2 L803.1 277.3 L803.2 280.3 L803.1 283.1 L802.5 285.8 L801.7 288.1 L800.6 290.2 L799.2 291.9 L797.5 293.2 L795.6 294.1"/>
<path class="k" style="stroke-width:1.9" d="M769 252.8 L770.8 251.8 L772.9 251.2 L775.1 251.1 L777.4 251.4 L779.8 252.1 L782.2 253.2 L784.6 254.8 L786.9 256.6 L789.2 258.9 L791.2 261.4 L793.1 264.1 L794.8 267.1 L796.2 270.2 L797.3 273.3 L798.1 276.5 L798.6 279.6 L798.8 282.6 L798.6 285.4 L798.1 288 L797.3 290.4 L796.1 292.4 L794.7 294.1 L793 295.4 L791.1 296.3"/>
<path class="k" d="M783.1 248.7 L787.1 246.7"/>
<path class="k" d="M796 257.9 L800 255.9"/>
<path class="k" d="M803.8 275.4 L807.8 273.4"/>
<ellipse class="w" cx="772.6" cy="278.4" rx="21" ry="34" transform="rotate(-27 772.6 278.4)"/>
<ellipse class="w" cx="771" cy="279.2" rx="21" ry="34" transform="rotate(-27 771 279.2)"/>
<ellipse class="k" cx="771.7" cy="279.6" rx="9.6" ry="15.6" transform="rotate(-27 771.7 279.6)"/>
<path class="k" d="M774.6 269.9 L775.6 270.7 L776.5 271.7 L777.4 272.7 L778.3 273.8 L779 275.1 L779.7 276.3 L780.4 277.6 L780.9 279 L781.3 280.3 L781.6 281.7 L781.8 283 L781.9 284.2 L781.9 285.4 L781.8 286.5 L781.5 287.6 L781.2 288.5 L780.7 289.3 L780.2 289.9 L779.5 290.4 L778.8 290.8 L778 291 L777.1 291.1 L776.2 291 L775.3 290.7"/>
<ellipse class="w" cx="747.5" cy="293.7" rx="15.6" ry="25" transform="rotate(-27 747.5 293.7)"/>
<ellipse class="w" cx="746.1" cy="294.4" rx="15.6" ry="25" transform="rotate(-27 746.1 294.4)"/>
<ellipse class="k" cx="745.7" cy="294.8" rx="8.2" ry="12.8" transform="rotate(-27 745.7 294.8)"/>
<path class="k" d="M746 284.5 L747 284.9 L747.9 285.4 L748.9 286 L749.8 286.8 L750.7 287.6 L751.5 288.6 L752.3 289.7 L753 290.8 L753.6 292 L754.1 293.2 L754.5 294.5 L754.8 295.7 L755 296.9 L755 298.1 L755 299.2 L754.8 300.3 L754.5 301.3 L754.1 302.1 L753.6 302.9 L753 303.5 L752.3 304 L751.6 304.3 L750.7 304.5 L749.9 304.5"/>
<ellipse class="hw" style="stroke-width:3" cx="721.9" cy="307.7" rx="16.6" ry="23.3" transform="rotate(-27 721.9 307.7)"/>
<ellipse class="h" cx="723" cy="307.4" rx="14" ry="20.3" transform="rotate(-27 723 307.4)"/>
<path class="h" d="M708.4 291.7 L710.1 289.8 L712.1 288.4 L714.4 287.4 L716.8 287 L719.4 287.1 L722.1 287.7 L724.8 288.8 L727.4 290.4 L729.9 292.5 L732.2 294.9 L734.3 297.6 L736 300.7 L737.4 303.8 L738.5 307.1 L739.1 310.4 L739.2 313.6 L739 316.7 L738.3 319.5 L737.2 322.1 L735.8 324.2 L734 326 L731.9 327.2 L729.6 328 L727 328.2"/>
<ellipse class="k" cx="723.3" cy="308.5" rx="11" ry="17" transform="rotate(-27 723.3 308.5)"/>
<path class="k" d="M728.1 299.5 L729.2 300.7 L730.2 301.9 L731.2 303.3 L732 304.7 L732.7 306.2 L733.3 307.7 L733.8 309.3 L734.1 310.8 L734.3 312.4 L734.3 313.8 L734.2 315.2 L734 316.5 L733.6 317.7 L733 318.8 L732.4 319.7 L731.6 320.4 L730.7 321 L729.7 321.3 L728.6 321.5 L727.5 321.5 L726.3 321.3 L725.1 320.9 L723.9 320.3 L722.7 319.6"/>
<ellipse class="w" cx="695.7" cy="323" rx="14" ry="20.5" transform="rotate(-27 695.7 323)"/>
<ellipse class="k" cx="696.6" cy="323.3" rx="11.6" ry="17.6" transform="rotate(-27 696.6 323.3)"/>
<path class="t" d="M697.8 310 L698.7 310.5 L699.6 311 L700.5 311.7 L701.4 312.4 L702.2 313.2 L703 314 L703.8 314.9 L704.5 315.9 L705.2 316.9 L705.9 318 L706.5 319.1 L707 320.2 L707.5 321.3 L707.9 322.5 L708.2 323.6 L708.5 324.8 L708.7 326 L708.8 327.1 L708.9 328.2 L708.8 329.3 L708.7 330.3 L708.6 331.3 L708.4 332.3 L708 333.2"/>
<ellipse class="w" cx="666.7" cy="339.9" rx="19.4" ry="33.5" transform="rotate(153 666.7 339.9)"/>
<path d="M651.5 310 L634.6 318.7 L665 378.3 L681.9 369.7 Z" fill="#fff" stroke="none"/>
<line class="k" x1="651.5" y1="310" x2="634.6" y2="318.7"/>
<line class="k" x1="681.9" y1="369.7" x2="665" y2="378.3"/>
<path class="h" d="M649.4 311.7 L651.5 311.5 L653.6 311.6 L655.9 312.1 L658.2 312.8 L660.5 313.9 L662.9 315.3 L665.2 316.9 L667.5 318.8 L669.7 321 L671.8 323.4 L673.9 326 L675.8 328.7 L677.5 331.6 L679.1 334.7 L680.5 337.8 L681.7 340.9 L682.7 344.1 L683.5 347.2 L684 350.3 L684.3 353.4 L684.4 356.3 L684.2 359 L683.8 361.6 L683.2 364"/>
<path class="h" d="M646.7 313 L648.8 312.8 L651 313 L653.2 313.4 L655.5 314.2 L657.8 315.3 L660.2 316.6 L662.5 318.3 L664.8 320.2 L667 322.4 L669.2 324.8 L671.2 327.3 L673.1 330.1 L674.8 333 L676.4 336 L677.8 339.1 L679 342.3 L680 345.4 L680.8 348.6 L681.3 351.7 L681.7 354.7 L681.7 357.6 L681.6 360.4 L681.2 363 L680.5 365.4"/>
<path class="k" d="M635.4 318.8 L635.8 318.4 L636.3 318.1 L636.7 317.7 L637.2 317.4 L637.7 317.1 L638.2 316.8 L638.7 316.6 L639.2 316.4 L639.7 316.2 L640.3 316 L640.8 315.9 L641.4 315.8 L642 315.7 L642.6 315.6 L643.1 315.6 L643.8 315.6 L644.4 315.6 L645 315.6 L645.6 315.7 L646.2 315.8 L646.9 315.9 L647.5 316.1 L648.2 316.2 L648.8 316.4"/>
<ellipse class="w" cx="649.8" cy="348.5" rx="19.4" ry="33.5" transform="rotate(-27 649.8 348.5)"/>
<ellipse class="k" cx="650.4" cy="348.5" rx="17.6" ry="30.6" transform="rotate(-27 650.4 348.5)"/>
<ellipse class="k" cx="650.4" cy="350.2" rx="9.4" ry="15.4" transform="rotate(-27 650.4 350.2)"/>
<path class="k" d="M649.2 338 L650.4 338.2 L651.7 338.7 L653 339.4 L654.3 340.4 L655.5 341.5 L656.7 342.9 L657.8 344.4 L658.7 346 L659.6 347.7 L660.3 349.4 L660.8 351.2 L661.2 352.9 L661.3 354.5 L661.3 356.1 L661.1 357.6 L660.7 358.8 L660.2 359.9 L659.5 360.8 L658.6 361.5 L657.6 361.9 L656.5 362.1 L655.3 362 L654.1 361.6 L652.8 361"/>
<path class="t" d="M652.9 339.4 L653.5 339.7 L654 340 L654.6 340.5 L655.2 341 L655.8 341.5 L656.4 342.1 L656.9 342.8 L657.5 343.5 L658 344.3 L658.5 345.1 L659 345.9 L659.5 346.7 L659.9 347.6 L660.3 348.5 L660.6 349.3 L660.9 350.2 L661.1 351.1 L661.4 351.9 L661.5 352.8 L661.6 353.6 L661.7 354.3 L661.7 355 L661.6 355.7 L661.6 356.4"/>
<ellipse class="k" cx="626" cy="362.5" rx="18.6" ry="33" transform="rotate(-29 626 362.5)"/>
<ellipse class="k" cx="626" cy="362.5" rx="16.2" ry="30.4" transform="rotate(-29 626 362.5)"/>
<ellipse class="w" cx="597.7" cy="379.8" rx="15.6" ry="25" transform="rotate(-27 597.7 379.8)"/>
<ellipse class="w" cx="596.3" cy="380.5" rx="15.6" ry="25" transform="rotate(-27 596.3 380.5)"/>
<ellipse class="k" cx="595.9" cy="380.9" rx="8.2" ry="12.8" transform="rotate(-27 595.9 380.9)"/>
<path class="k" d="M596.2 370.6 L597.2 371 L598.1 371.5 L599.1 372.1 L600 372.9 L600.9 373.7 L601.7 374.7 L602.5 375.8 L603.2 376.9 L603.8 378.1 L604.3 379.3 L604.7 380.6 L605 381.8 L605.2 383 L605.2 384.2 L605.2 385.3 L605 386.4 L604.7 387.4 L604.3 388.2 L603.8 389 L603.2 389.6 L602.5 390.1 L601.8 390.4 L600.9 390.6 L600.1 390.6"/>
<ellipse class="hw" style="stroke-width:3" cx="572" cy="393.8" rx="16.6" ry="23.3" transform="rotate(-27 572 393.8)"/>
<ellipse class="h" cx="573.1" cy="393.5" rx="14" ry="20.3" transform="rotate(-27 573.1 393.5)"/>
<path class="h" d="M558.5 377.8 L560.2 375.9 L562.2 374.5 L564.5 373.5 L566.9 373.1 L569.5 373.2 L572.2 373.8 L574.9 374.9 L577.5 376.5 L580 378.6 L582.3 381 L584.4 383.7 L586.1 386.8 L587.5 389.9 L588.6 393.2 L589.2 396.5 L589.3 399.7 L589.1 402.8 L588.4 405.6 L587.3 408.2 L585.9 410.3 L584.1 412.1 L582 413.3 L579.7 414.1 L577.1 414.3"/>
<ellipse class="k" cx="573.4" cy="394.6" rx="11.5" ry="17.5" transform="rotate(-27 573.4 394.6)"/>
<path class="k" d="M578.5 385.2 L579.6 386.4 L580.7 387.7 L581.7 389.1 L582.5 390.6 L583.3 392.1 L583.9 393.7 L584.4 395.3 L584.7 396.9 L584.9 398.5 L584.9 400.1 L584.8 401.5 L584.5 402.9 L584.1 404.1 L583.5 405.2 L582.8 406.1 L581.9 406.9 L581 407.5 L580 407.9 L578.8 408.1 L577.6 408.1 L576.4 407.9 L575.2 407.5 L573.9 406.9 L572.6 406.1"/>
<path class="t" d="M590 384.5 L600 379"/>
<path class="t" d="M611 372 L628 362.2"/>
<path class="t" d="M646 352 L656 346.4"/>
<path class="t" d="M689 327 L701 320.3"/>
<path class="t" d="M715 312 L728 304.8"/>
<path class="t" d="M741 297 L750 292"/>
<path class="t" d="M765 283 L777 276.3"/>
</g>

<!-- 50_left.svg -->
<g id="left">
<path class="l" d="M146.5 337.5 C146.2 339.9 145.8 345.4 145 352 C144.2 358.6 142.1 372.8 141.5 377"/>
<path class="l" d="M232.8 434.6 L232.8 441.5 L244.5 454.2"/>
<path class="l" d="M204.9 449.3 L204.9 458.1 L212.3 472.7"/>
<path class="l" d="M174.8 468.8 L174.8 475.7 L186.5 488"/>
<path class="l" d="M140.4 487.4 L140.4 495.2 L146.9 504"/>
<path class="l" d="M239.6 490.3 C240.3 492.9 243.4 501.6 244.1 506 C244.8 510.4 243.7 514.9 243.6 516.7"/>
<path class="l" d="M266 472.7 C266.8 475.3 269.9 483.8 270.9 488.4 C271.9 492.9 271.7 498.1 271.9 500"/>
<path class="d" d="M191.6 369.4 L255.9 333.9 L255.9 393.1 L108.8 476.6 L108.8 548.9 L291.4 443.4 L318 458"/>
<path class="d" d="M277.5 262 L277.5 389.7 L322 414"/>
<ellipse class="hw" cx="181" cy="382.1" rx="9.9" ry="18" transform="rotate(154 181 382.1)"/>
<path d="M173.1 365.9 L162.4 371.2 L178.1 403.5 L188.9 398.3 Z" fill="#fff" stroke="none"/>
<line class="h" x1="173.1" y1="365.9" x2="162.4" y2="371.2"/>
<line class="h" x1="188.9" y1="398.3" x2="178.1" y2="403.5"/>
<path class="hw" d="M185.2 386.9 L193.8 388.1 L193.1 393.1 L185.2 391.6 Z"/>
<path class="k" d="M166.7 379.1 L166.6 378.3 L166.5 377.6 L166.5 376.8 L166.4 376.1 L166.4 375.4 L166.5 374.7 L166.5 374 L166.6 373.4 L166.7 372.8 L166.9 372.2 L167 371.6 L167.2 371 L167.4 370.5 L167.7 370 L167.9 369.6 L168.2 369.1 L168.5 368.7 L168.9 368.4 L169.2 368 L169.6 367.7 L170 367.5 L170.4 367.2 L170.8 367.1 L171.2 366.9"/>
<path class="k" d="M163.5 380.6 L163.4 379.8 L163.4 379.1 L163.3 378.3 L163.3 377.6 L163.3 376.9 L163.3 376.2 L163.4 375.6 L163.5 374.9 L163.6 374.3 L163.7 373.7 L163.9 373.1 L164.1 372.6 L164.3 372.1 L164.5 371.6 L164.8 371.1 L165.1 370.7 L165.4 370.3 L165.7 369.9 L166.1 369.6 L166.4 369.3 L166.8 369 L167.2 368.8 L167.7 368.6 L168.1 368.4"/>
<path class="k" d="M160.4 382.1 L160.3 381.4 L160.2 380.6 L160.2 379.9 L160.2 379.2 L160.2 378.5 L160.2 377.8 L160.2 377.1 L160.3 376.5 L160.4 375.8 L160.6 375.2 L160.7 374.7 L160.9 374.1 L161.1 373.6 L161.4 373.1 L161.6 372.6 L161.9 372.2 L162.2 371.8 L162.6 371.4 L162.9 371.1 L163.3 370.8 L163.7 370.5 L164.1 370.3 L164.5 370.1 L165 370"/>
<ellipse class="hw" cx="170.2" cy="387.3" rx="10.7" ry="19.5" transform="rotate(154 170.2 387.3)"/>
<path d="M161.7 369.8 L157.7 371.8 L174.7 406.8 L178.8 404.9 Z" fill="#fff" stroke="none"/>
<line class="h" x1="161.7" y1="369.8" x2="157.7" y2="371.8"/>
<line class="h" x1="178.8" y1="404.9" x2="174.7" y2="406.8"/>
<ellipse class="hw" cx="166.2" cy="389.3" rx="10.7" ry="19.5" transform="rotate(154 166.2 389.3)"/>
<ellipse class="b" cx="166.2" cy="389.3" rx="8.5" ry="15.5" transform="rotate(154 166.2 389.3)"/>
<path d="M159.4 375.4 L153.6 378.2 L167.2 406.1 L173 403.2 Z" fill="#fff" stroke="none"/>
<line class="b" x1="159.4" y1="375.4" x2="153.6" y2="378.2"/>
<line class="b" x1="173" y1="403.2" x2="167.2" y2="406.1"/>
<ellipse class="b" cx="160.4" cy="392.2" rx="8.5" ry="15.5" transform="rotate(154 160.4 392.2)"/>
<path class="hw" d="M130.5 382.2 L146.9 376.2 L161.2 393.4 L164.1 413.8 L151.6 420 L145 415.3 L140.9 404.4 Z"/>
<path class="h" d="M146.9 376.2 L159.4 396.6 L164.1 413.8"/>
<path class="h" d="M159.4 396.6 L146.9 401.2"/>
<path class="k" d="M130.5 382.2 L145.3 380.2 L146.9 376.2"/>
<ellipse class="hw" cx="146" cy="399.2" rx="10.6" ry="19.2" transform="rotate(154 146 399.2)"/>
<path d="M137.6 381.9 L120.5 390.2 L137.3 424.8 L154.4 416.4 Z" fill="#fff" stroke="none"/>
<line class="h" x1="137.6" y1="381.9" x2="120.5" y2="390.2"/>
<line class="h" x1="154.4" y1="416.4" x2="137.3" y2="424.8"/>
<ellipse class="hw" cx="128.9" cy="407.5" rx="10.6" ry="19.2" transform="rotate(154 128.9 407.5)"/>
<path class="k" d="M129.7 399.8 L129.4 398.5 L129.2 397.2 L129 396 L128.9 394.7 L128.8 393.6 L128.9 392.4 L128.9 391.3 L129.1 390.3 L129.3 389.3 L129.6 388.4 L129.9 387.5 L130.3 386.7 L130.8 386 L131.3 385.4 L131.9 384.9 L132.5 384.4 L133.2 384 L133.9 383.8 L134.7 383.6 L135.5 383.5 L136.3 383.5 L137.1 383.6 L138 383.8 L138.9 384.1"/>
<path class="k" d="M148.1 419.2 L147.7 419.2 L147.3 419.2 L146.9 419.2 L146.5 419.2 L146.1 419.1 L145.6 419.1 L145.2 419 L144.8 418.8 L144.3 418.7 L143.9 418.5 L143.4 418.4 L143 418.1 L142.5 417.9 L142 417.6 L141.6 417.4 L141.1 417.1 L140.7 416.8 L140.2 416.4 L139.8 416.1 L139.3 415.7 L138.8 415.3 L138.4 414.9 L138 414.4 L137.5 414"/>
<path class="k" d="M126.6 401.3 L126.3 400 L126 398.8 L125.9 397.5 L125.7 396.3 L125.7 395.1 L125.7 393.9 L125.8 392.8 L126 391.8 L126.2 390.8 L126.4 389.9 L126.8 389 L127.2 388.3 L127.7 387.6 L128.2 386.9 L128.8 386.4 L129.4 385.9 L130.1 385.6 L130.8 385.3 L131.5 385.1 L132.3 385 L133.1 385.1 L134 385.2 L134.9 385.4 L135.8 385.7"/>
<path class="k" d="M145 420.7 L144.6 420.7 L144.2 420.8 L143.8 420.8 L143.4 420.7 L142.9 420.7 L142.5 420.6 L142.1 420.5 L141.6 420.4 L141.2 420.2 L140.7 420.1 L140.3 419.9 L139.8 419.7 L139.4 419.4 L138.9 419.2 L138.4 418.9 L138 418.6 L137.5 418.3 L137.1 417.9 L136.6 417.6 L136.2 417.2 L135.7 416.8 L135.3 416.4 L134.8 416 L134.4 415.5"/>
<path class="k" d="M123.4 402.9 L123.1 401.6 L122.9 400.3 L122.7 399 L122.6 397.8 L122.5 396.6 L122.6 395.5 L122.7 394.4 L122.8 393.3 L123 392.4 L123.3 391.4 L123.6 390.6 L124.1 389.8 L124.5 389.1 L125 388.5 L125.6 387.9 L126.2 387.5 L126.9 387.1 L127.6 386.8 L128.4 386.7 L129.2 386.6 L130 386.6 L130.9 386.7 L131.7 386.9 L132.6 387.2"/>
<path class="k" d="M141.8 422.2 L141.4 422.3 L141 422.3 L140.6 422.3 L140.2 422.3 L139.8 422.2 L139.4 422.1 L138.9 422 L138.5 421.9 L138 421.8 L137.6 421.6 L137.1 421.4 L136.7 421.2 L136.2 421 L135.8 420.7 L135.3 420.4 L134.8 420.1 L134.4 419.8 L133.9 419.5 L133.5 419.1 L133 418.7 L132.6 418.3 L132.1 417.9 L131.7 417.5 L131.2 417"/>
<path class="k" d="M120.3 404.4 L120 403.1 L119.7 401.8 L119.6 400.6 L119.4 399.4 L119.4 398.2 L119.4 397 L119.5 395.9 L119.7 394.9 L119.9 393.9 L120.2 393 L120.5 392.1 L120.9 391.3 L121.4 390.6 L121.9 390 L122.5 389.5 L123.1 389 L123.8 388.6 L124.5 388.4 L125.2 388.2 L126 388.1 L126.9 388.1 L127.7 388.2 L128.6 388.4 L129.5 388.7"/>
<path class="k" d="M138.7 423.8 L138.3 423.8 L137.9 423.8 L137.5 423.8 L137.1 423.8 L136.6 423.7 L136.2 423.7 L135.8 423.6 L135.3 423.5 L134.9 423.3 L134.4 423.1 L134 423 L133.5 422.7 L133.1 422.5 L132.6 422.3 L132.2 422 L131.7 421.7 L131.2 421.4 L130.8 421 L130.3 420.7 L129.9 420.3 L129.4 419.9 L129 419.5 L128.5 419 L128.1 418.6"/>
<ellipse class="hw" cx="129.7" cy="407.5" rx="7.6" ry="13.6" transform="rotate(-26 129.7 407.5)"/>
<ellipse class="k" cx="130.5" cy="407.1" rx="6" ry="11.4" transform="rotate(-26 130.5 407.1)"/>
<ellipse class="hw" cx="156.6" cy="522.5" rx="11.2" ry="18.4" transform="rotate(-27 156.6 522.5)"/>
<ellipse class="k" cx="156.8" cy="522.6" rx="8.6" ry="15.4" transform="rotate(-27 156.8 522.6)"/>
<path d="M186.4 505 L203.4 496" stroke="#000" stroke-width="11.5" stroke-linecap="round" fill="none"/>
<path d="M187.5 502.5 L189 508.5" stroke="#fff" stroke-width="0.8" fill="none"/>
<path d="M191 501 L192.2 506" stroke="#fff" stroke-width="0.6" fill="none"/>
<ellipse class="w" cx="217.2" cy="486.4" rx="8" ry="8"/>
<path class="k" d="M216 492.2 L215.4 492.2 L214.8 492 L214.2 491.8 L213.6 491.5 L213.1 491.2 L212.6 490.7 L212.2 490.2 L211.8 489.7 L211.5 489.1 L211.3 488.4 L211.1 487.8 L211 487.1 L211 486.4 L211.1 485.7 L211.2 485 L211.4 484.4 L211.7 483.8 L212 483.2 L212.4 482.7 L212.9 482.2 L213.4 481.8 L214 481.5 L214.5 481.2 L215.1 481.1"/>
<path class="k" style="stroke-width:3.4" d="M235.8 465.5 L237.2 466.4 L238.5 467.5 L239.8 468.9 L241 470.4 L242 472.1 L242.9 473.9 L243.6 475.7 L244 477.6 L244.2 479.4 L244.2 481.1 L244 482.7 L243.5 484 L242.8 485.2 L241.9 486.1 L240.9 486.7 L239.7 487.1 L238.4 487.1 L237 486.8 L235.6 486.2 L234.2 485.3 L232.8 484.2 L231.5 482.9 L230.3 481.3 L229.3 479.6 L228.5 477.8 L227.8 476 L227.4 474.1 L227.2 472.3 L227.2 470.6 L227.5 469.1"/>
<ellipse class="hw" style="stroke-width:2.6" cx="250.4" cy="466.9" rx="7.6" ry="10.6" transform="rotate(-27 250.4 466.9)"/>
<ellipse class="k" cx="250.2" cy="467.2" rx="3.6" ry="5" transform="rotate(-27 250.2 467.2)"/>
<ellipse class="t" cx="250.6" cy="467.4" rx="1.6" ry="2.4" transform="rotate(-27 250.6 467.4)"/>
<ellipse class="k" style="stroke-width:3.2" cx="263.1" cy="460" rx="8.2" ry="11.4" transform="rotate(-27 263.1 460)"/>
</g>

<!-- 60_botleft.svg -->
<g id="botleft">
<path class="l" d="M216.5 580.5 C216.5 582.1 217.2 586.8 216.5 590 C215.8 593.2 213.4 596.3 212 600 C210.6 603.7 208.7 610 208 612"/>
<path class="l" d="M248.5 561.5 C248.5 563.8 249.1 571.1 248.5 575 C247.9 578.9 246 581.8 245 585 C244 588.2 242.9 592.5 242.5 594"/>
<path class="l" d="M283.6 540.1 L283.6 547 L300.5 564"/>
<path class="l" d="M311.5 524.4 C311.5 525.4 310.9 529.2 311.5 530.6 C312.1 532 314.4 532.6 315 533"/>
<path class="l" d="M315 533 L332.7 540"/>
<path class="l" d="M305.2 694.5 C305.2 693.1 305.9 688.4 305.2 686 C304.5 683.6 302.4 682.2 301 680 C299.6 677.8 297.3 674.2 296.6 673"/>
<path class="l" d="M382.5 694.5 C382.5 693.1 383 688.3 382.5 686 C382 683.7 379.8 681.5 379.3 680.6"/>
<ellipse class="k" cx="349.2" cy="555.2" rx="10.6" ry="18.6" transform="rotate(-26.5 349.2 555.2)"/>
<ellipse class="k" cx="349.2" cy="555.2" rx="8.4" ry="16" transform="rotate(-26.5 349.2 555.2)"/>
<ellipse class="hw" cx="334.8" cy="568.8" rx="10.8" ry="21.5" transform="rotate(153.5 334.8 568.8)"/>
<path d="M325.2 549.6 L321.6 551.4 L340.8 589.9 L344.4 588.1 Z" fill="#fff" stroke="none"/>
<line class="h" x1="325.2" y1="549.6" x2="321.6" y2="551.4"/>
<line class="h" x1="344.4" y1="588.1" x2="340.8" y2="589.9"/>
<ellipse class="hw" cx="331.2" cy="570.6" rx="10.8" ry="21.5" transform="rotate(153.5 331.2 570.6)"/>
<ellipse class="h" cx="330.3" cy="571.1" rx="9.4" ry="18.8" transform="rotate(-26.5 330.3 571.1)"/>
<ellipse class="w" cx="329.8" cy="571.3" rx="8.3" ry="16.6" transform="rotate(153.5 329.8 571.3)"/>
<path d="M322.4 556.4 L293.8 570.7 L308.6 600.4 L337.2 586.2 Z" fill="#fff" stroke="none"/>
<line class="k" x1="322.4" y1="556.4" x2="293.8" y2="570.7"/>
<line class="k" x1="337.2" y1="586.2" x2="308.6" y2="600.4"/>
<path class="k" d="M304.3 571.7 L324.9 561.5"/>
<path class="k" d="M306.8 574.4 L326.5 564.6"/>
<path class="k" d="M313 586.9 L332.7 577.1"/>
<path class="k" d="M313.9 591 L334.5 580.7"/>
<path class="k" d="M306.8 574.4 L313 586.9"/>
<path class="k" d="M311.1 572.8 C311.3 574 311.8 577.9 312.7 579.8 C313.7 581.8 316.2 583.7 316.9 584.5"/>
<path class="k" d="M315.1 570.8 C315.4 572 315.8 575.9 316.8 577.8 C317.7 579.8 320.2 581.7 320.9 582.5"/>
<path class="k" d="M319.1 568.8 C319.4 570 319.8 573.9 320.8 575.8 C321.8 577.7 324.2 579.7 324.9 580.5"/>
<path class="k" d="M323.1 566.8 C323.4 568 323.9 571.9 324.8 573.8 C325.8 575.7 328.2 577.7 328.9 578.5"/>
<ellipse class="w" cx="301.2" cy="585.6" rx="8.3" ry="16.6" transform="rotate(-26.5 301.2 585.6)"/>
<ellipse class="k" cx="300.7" cy="585.8" rx="6.4" ry="13" transform="rotate(-26.5 300.7 585.8)"/>
<ellipse class="w" cx="301.2" cy="585.6" rx="4.8" ry="9.5" transform="rotate(153.5 301.2 585.6)"/>
<path d="M297 577.1 L292 579.5 L300.5 596.5 L305.4 594.1 Z" fill="#fff" stroke="none"/>
<line class="k" x1="297" y1="577.1" x2="292" y2="579.5"/>
<line class="k" x1="305.4" y1="594.1" x2="300.5" y2="596.5"/>
<ellipse class="w" cx="296.3" cy="588" rx="4.8" ry="9.5" transform="rotate(153.5 296.3 588)"/>
<ellipse class="w" cx="296.7" cy="587.8" rx="3.3" ry="6" transform="rotate(153.5 296.7 587.8)"/>
<path d="M294 582.4 L280.6 589.1 L286 599.9 L299.4 593.2 Z" fill="#fff" stroke="none"/>
<line class="k" x1="294" y1="582.4" x2="280.6" y2="589.1"/>
<line class="k" x1="299.4" y1="593.2" x2="286" y2="599.9"/>
<ellipse class="w" cx="283.3" cy="594.5" rx="3.3" ry="6" transform="rotate(153.5 283.3 594.5)"/>
<path class="t" d="M284.1 591.6 L294 586.7"/>
<path class="t" d="M286.2 595.8 L296 590.8"/>
<ellipse class="t" cx="283.6" cy="594.5" rx="1.8" ry="3" transform="rotate(-26.5 283.6 594.5)"/>
<ellipse class="k" cx="246.2" cy="615" rx="11" ry="20" transform="rotate(-26.5 246.2 615)"/>
<ellipse class="k" cx="246.2" cy="615" rx="8.8" ry="17.4" transform="rotate(-26.5 246.2 615)"/>
<ellipse class="w" cx="236.4" cy="625.7" rx="7.8" ry="15.5" transform="rotate(153.5 236.4 625.7)"/>
<path d="M229.5 611.8 L211.6 620.8 L225.4 648.5 L243.3 639.6 Z" fill="#fff" stroke="none"/>
<line class="k" x1="229.5" y1="611.8" x2="211.6" y2="620.8"/>
<line class="k" x1="243.3" y1="639.6" x2="225.4" y2="648.5"/>
<path class="k" d="M225.6 628.1 L225.4 627.3 L225.1 626.6 L224.9 625.9 L224.7 625.2 L224.5 624.4 L224.3 623.7 L224.2 623 L224.1 622.3 L224 621.6 L223.9 621 L223.9 620.3 L223.9 619.7 L223.9 619.1 L223.9 618.5 L224 617.9 L224.1 617.4 L224.2 616.8 L224.4 616.3 L224.5 615.9 L224.7 615.4 L224.9 615 L225.2 614.6 L225.4 614.3 L225.7 614"/>
<path class="k" d="M231.2 613.3 L231.9 613.6 L232.6 614 L233.3 614.5 L234 615 L234.8 615.6 L235.5 616.2 L236.2 616.9 L236.8 617.7 L237.5 618.5 L238.2 619.4 L238.8 620.3 L239.4 621.2 L240 622.2 L240.5 623.2 L241 624.2 L241.5 625.2 L241.9 626.2 L242.2 627.3 L242.6 628.3 L242.9 629.3 L243.1 630.4 L243.3 631.4 L243.4 632.3 L243.5 633.3"/>
<path class="k" d="M222.1 629.8 L221.8 629.1 L221.5 628.4 L221.3 627.7 L221.1 626.9 L220.9 626.2 L220.8 625.5 L220.6 624.8 L220.5 624.1 L220.4 623.4 L220.4 622.8 L220.3 622.1 L220.3 621.5 L220.3 620.9 L220.4 620.3 L220.4 619.7 L220.5 619.1 L220.6 618.6 L220.8 618.1 L220.9 617.7 L221.1 617.2 L221.3 616.8 L221.6 616.4 L221.8 616.1 L222.1 615.8"/>
<path class="k" d="M227.6 615.1 L228.3 615.4 L229 615.8 L229.8 616.2 L230.5 616.8 L231.2 617.4 L231.9 618 L232.6 618.7 L233.3 619.5 L233.9 620.3 L234.6 621.2 L235.2 622.1 L235.8 623 L236.4 624 L236.9 624.9 L237.4 626 L237.9 627 L238.3 628 L238.7 629.1 L239 630.1 L239.3 631.1 L239.5 632.1 L239.7 633.1 L239.8 634.1 L239.9 635.1"/>
<path class="k" d="M218.5 631.6 L218.2 630.9 L218 630.2 L217.7 629.4 L217.5 628.7 L217.3 628 L217.2 627.3 L217 626.6 L216.9 625.9 L216.8 625.2 L216.8 624.5 L216.7 623.9 L216.7 623.3 L216.7 622.6 L216.8 622.1 L216.9 621.5 L216.9 620.9 L217.1 620.4 L217.2 619.9 L217.4 619.4 L217.6 619 L217.8 618.6 L218 618.2 L218.3 617.9 L218.5 617.6"/>
<path class="k" d="M224.1 616.9 L224.8 617.2 L225.5 617.6 L226.2 618 L226.9 618.6 L227.6 619.1 L228.3 619.8 L229 620.5 L229.7 621.3 L230.4 622.1 L231 622.9 L231.6 623.8 L232.2 624.8 L232.8 625.7 L233.3 626.7 L233.8 627.7 L234.3 628.8 L234.7 629.8 L235.1 630.8 L235.4 631.9 L235.7 632.9 L235.9 633.9 L236.1 634.9 L236.3 635.9 L236.3 636.9"/>
<path class="k" d="M214.9 633.4 L214.6 632.7 L214.4 632 L214.1 631.2 L213.9 630.5 L213.8 629.8 L213.6 629.1 L213.5 628.4 L213.3 627.7 L213.3 627 L213.2 626.3 L213.2 625.7 L213.1 625 L213.2 624.4 L213.2 623.8 L213.3 623.3 L213.4 622.7 L213.5 622.2 L213.6 621.7 L213.8 621.2 L214 620.8 L214.2 620.4 L214.4 620 L214.7 619.7 L215 619.3"/>
<path class="k" d="M220.5 618.6 L221.2 619 L221.9 619.4 L222.6 619.8 L223.3 620.3 L224 620.9 L224.7 621.6 L225.4 622.3 L226.1 623.1 L226.8 623.9 L227.4 624.7 L228.1 625.6 L228.6 626.6 L229.2 627.5 L229.8 628.5 L230.3 629.5 L230.7 630.5 L231.1 631.6 L231.5 632.6 L231.8 633.7 L232.1 634.7 L232.4 635.7 L232.5 636.7 L232.7 637.7 L232.8 638.6"/>
<ellipse class="hw" cx="218.5" cy="634.6" rx="10.3" ry="20.6" transform="rotate(153.5 218.5 634.6)"/>
<path d="M209.3 616.2 L205.7 618 L224.1 654.8 L227.7 653.1 Z" fill="#fff" stroke="none"/>
<line class="h" x1="209.3" y1="616.2" x2="205.7" y2="618"/>
<line class="h" x1="227.7" y1="653.1" x2="224.1" y2="654.8"/>
<ellipse class="hw" cx="214.9" cy="636.4" rx="10.3" ry="20.6" transform="rotate(153.5 214.9 636.4)"/>
<ellipse class="k" cx="214" cy="636.9" rx="9" ry="17.6" transform="rotate(-26.5 214 636.9)"/>
<path class="w" d="M199.3 623.8 L205.5 617.5 L221.2 627.3 L223.7 636.4 L218.8 639.4 Z"/>
<path class="w" d="M218.8 639.4 L223.7 636.4 L223.1 652.1 L217.9 655 Z"/>
<path class="hw" d="M185.6 629.6 L199.3 623.8 L218.8 639.4 L217.9 655 L199.3 659.9 L186.6 645.2 Z"/>
<path class="t" d="M193.4 621.8 C194.4 621.3 197.3 619.6 199.3 618.9 C201.3 618.2 204.5 617.7 205.5 617.5"/>
<ellipse class="w" cx="342" cy="634.9" rx="3.8" ry="7.6" transform="rotate(150.4 342 634.9)"/>
<path d="M338.2 628.3 L257.6 674.1 L265.1 687.3 L345.7 641.5 Z" fill="#fff" stroke="none"/>
<line class="k" x1="338.2" y1="628.3" x2="257.6" y2="674.1"/>
<line class="k" x1="345.7" y1="641.5" x2="265.1" y2="687.3"/>
<path class="k" d="M338.2 628.3 L338.7 628.1 L339.2 628 L339.8 628.1 L340.4 628.2 L341 628.5 L341.7 628.9 L342.3 629.4 L343 630 L343.6 630.6 L344.2 631.4 L344.8 632.2 L345.3 633 L345.7 633.9 L346.1 634.8 L346.5 635.7 L346.7 636.6 L346.9 637.4 L347 638.2 L347 639 L346.9 639.7 L346.7 640.3 L346.5 640.8 L346.1 641.2 L345.7 641.5"/>
<path class="k" d="M297.9 651.9 C298.4 652.3 300.5 653.3 301.2 654.1 C301.9 654.9 302 656.5 302.1 656.9"/>
<path class="t" d="M304.9 664.2 L304.6 662.5"/>
<path class="k" d="M302.2 649.4 C302.8 649.8 304.8 650.8 305.5 651.7 C306.2 652.5 306.3 654 306.5 654.5"/>
<path class="t" d="M309.2 661.8 L308.9 660.1"/>
<path class="k" d="M306.5 647 C307.1 647.3 309.2 648.4 309.9 649.2 C310.6 650 310.6 651.6 310.8 652"/>
<path class="t" d="M313.5 659.3 L313.3 657.6"/>
<path class="k" d="M310.8 644.5 C311.4 644.9 313.5 645.9 314.2 646.7 C314.9 647.6 314.9 649.1 315.1 649.6"/>
<path class="t" d="M317.9 656.9 L317.6 655.2"/>
<path class="k" d="M315.2 642.1 C315.7 642.4 317.8 643.4 318.5 644.3 C319.2 645.1 319.3 646.6 319.4 647.1"/>
<path class="t" d="M322.2 654.4 L321.9 652.7"/>
<path class="k" d="M319.5 639.6 C320 640 322.1 641 322.8 641.8 C323.5 642.7 323.6 644.2 323.7 644.7"/>
<path class="t" d="M326.5 652 L326.2 650.3"/>
<path class="k" d="M323.8 637.2 C324.4 637.5 326.4 638.5 327.1 639.4 C327.9 640.2 327.9 641.7 328.1 642.2"/>
<path class="t" d="M330.8 649.5 L330.6 647.8"/>
<path class="k" d="M328.1 634.7 C328.7 635.1 330.8 636.1 331.5 636.9 C332.2 637.8 332.2 639.3 332.4 639.8"/>
<path class="t" d="M335.1 647 L334.9 645.4"/>
<path class="k" d="M332.5 632.2 C333 632.6 335.1 633.6 335.8 634.5 C336.5 635.3 336.6 636.8 336.7 637.3"/>
<path class="t" d="M339.5 644.6 L339.2 642.9"/>
<path class="k" d="M336.8 629.8 C337.3 630.2 339.4 631.2 340.1 632 C340.8 632.9 340.9 634.4 341 634.8"/>
<path class="t" d="M343.8 642.1 L343.5 640.4"/>
<ellipse class="w" cx="261.3" cy="680.7" rx="8.3" ry="13.4" transform="rotate(150.4 261.3 680.7)"/>
<path d="M254.7 669 L241.7 676.4 L254.9 699.8 L268 692.3 Z" fill="#fff" stroke="none"/>
<line class="k" x1="254.7" y1="669" x2="241.7" y2="676.4"/>
<line class="k" x1="268" y1="692.3" x2="254.9" y2="699.8"/>
<ellipse class="w" cx="248.3" cy="688.1" rx="8.3" ry="13.4" transform="rotate(150.4 248.3 688.1)"/>
<path class="k" d="M251.2 688.1 L249.8 692.6 L246.8 692.6 L245.4 688.1 L246.8 683.6 L249.8 683.6 Z"/>
<path class="t" d="M251.1 682.8 L251.5 683.2 L251.9 683.5 L252.3 684 L252.7 684.4 L253 684.9 L253.3 685.3 L253.7 685.8 L254 686.3 L254.2 686.9 L254.5 687.4 L254.7 687.9 L255 688.5 L255.1 689 L255.3 689.5 L255.4 690.1 L255.5 690.6 L255.6 691.1 L255.7 691.7 L255.7 692.2 L255.7 692.7 L255.7 693.2 L255.6 693.6 L255.5 694.1 L255.4 694.5"/>
<ellipse class="w" cx="424.3" cy="638.6" rx="3.9" ry="7.8" transform="rotate(150 424.3 638.6)"/>
<path d="M420.4 631.8 L383.4 653.2 L391.2 666.7 L428.2 645.3 Z" fill="#fff" stroke="none"/>
<line class="k" x1="420.4" y1="631.8" x2="383.4" y2="653.2"/>
<line class="k" x1="428.2" y1="645.3" x2="391.2" y2="666.7"/>
<path class="k" d="M420.4 631.8 L420.9 631.6 L421.4 631.6 L422 631.6 L422.6 631.8 L423.3 632 L424 632.4 L424.6 632.9 L425.3 633.5 L426 634.2 L426.6 635 L427.2 635.8 L427.7 636.6 L428.2 637.5 L428.6 638.4 L428.9 639.4 L429.2 640.3 L429.4 641.1 L429.5 642 L429.5 642.8 L429.4 643.5 L429.2 644.1 L429 644.6 L428.6 645 L428.2 645.3"/>
<path class="k" d="M387.6 651.5 C388.2 651.8 390.3 652.9 391 653.8 C391.8 654.6 391.8 656.2 392 656.7"/>
<path class="t" d="M394.9 664.1 L394.6 662.4"/>
<path class="k" d="M391.5 649.2 C392.1 649.6 394.2 650.6 394.9 651.5 C395.7 652.4 395.8 653.9 395.9 654.4"/>
<path class="t" d="M398.8 661.8 L398.6 660.2"/>
<path class="k" d="M395.5 646.9 C396 647.3 398.1 648.4 398.9 649.2 C399.6 650.1 399.7 651.7 399.9 652.1"/>
<path class="t" d="M402.8 659.6 L402.5 657.9"/>
<path class="k" d="M399.4 644.7 C400 645.1 402.1 646.1 402.8 647 C403.5 647.8 403.6 649.4 403.8 649.9"/>
<path class="t" d="M406.7 657.3 L406.4 655.6"/>
<path class="k" d="M403.3 642.4 C403.9 642.8 406 643.8 406.7 644.7 C407.4 645.6 407.5 647.1 407.7 647.6"/>
<path class="t" d="M410.6 655 L410.3 653.4"/>
<path class="k" d="M407.2 640.1 C407.8 640.5 409.9 641.6 410.6 642.4 C411.4 643.3 411.5 644.9 411.6 645.3"/>
<path class="t" d="M414.5 652.8 L414.3 651.1"/>
<path class="k" d="M411.2 637.9 C411.7 638.3 413.8 639.3 414.6 640.2 C415.3 641 415.4 642.6 415.5 643.1"/>
<path class="t" d="M418.5 650.5 L418.2 648.8"/>
<path class="k" d="M415.1 635.6 C415.6 636 417.8 637 418.5 637.9 C419.2 638.8 419.3 640.3 419.5 640.8"/>
<path class="t" d="M422.4 648.3 L422.1 646.6"/>
<path class="k" d="M419 633.3 C419.6 633.7 421.7 634.8 422.4 635.6 C423.1 636.5 423.2 638.1 423.4 638.5"/>
<path class="t" d="M426.3 646 L426 644.3"/>
<ellipse class="w" cx="387.3" cy="660" rx="8.8" ry="14.2" transform="rotate(150 387.3 660)"/>
<path d="M380.2 647.7 L366.8 655.4 L381 680 L394.4 672.2 Z" fill="#fff" stroke="none"/>
<line class="k" x1="380.2" y1="647.7" x2="366.8" y2="655.4"/>
<line class="k" x1="394.4" y1="672.2" x2="381" y2="680"/>
<ellipse class="w" cx="373.9" cy="667.7" rx="8.8" ry="14.2" transform="rotate(150 373.9 667.7)"/>
<path class="k" d="M376.8 667.7 L375.4 672.2 L372.4 672.2 L371 667.7 L372.4 663.2 L375.4 663.2 Z"/>
<path class="t" d="M376.6 662.4 L377.1 662.7 L377.5 663.1 L377.8 663.5 L378.2 664 L378.6 664.4 L378.9 664.9 L379.2 665.4 L379.5 665.9 L379.8 666.4 L380.1 666.9 L380.3 667.5 L380.5 668 L380.7 668.6 L380.9 669.1 L381 669.6 L381.1 670.2 L381.2 670.7 L381.3 671.2 L381.3 671.7 L381.3 672.2 L381.3 672.7 L381.2 673.2 L381.1 673.6 L381 674.1"/>
<path class="d" d="M346 632.2 L438 581"/>
<path class="d" d="M427.6 635.4 L452.8 622"/>
<path class="d" d="M257 609 L280 597"/>
<path class="d" d="M361.6 549.4 L413.9 518.1"/>
</g>

<!-- 70_botright.svg -->
<g id="botright">
<path class="l" d="M473.4 583.5 L468.5 694"/>
<path class="l" d="M505.7 606 L506.8 694"/>
<path class="l" d="M580.9 587.4 L554.6 686 L554.6 694"/>
<path class="l" d="M634.4 611.3 L594.5 686 L594.5 694"/>
<path class="l" d="M667.6 639.6 L636.5 686 L636.5 694"/>
<path class="l" d="M672.5 643.5 L678.3 686.6 L697.9 665"/>
<path class="l" d="M678.3 686.6 L766 686.6 L777 680"/>
<path class="l" d="M678.3 686.6 L677.5 694"/>
<path class="l" d="M732.8 704.7 L741 704.7 L775.2 688.6"/>
<path class="l" d="M620.4 440.3 L612.2 440.3 L589.6 458"/>
<path class="l" d="M655.3 456.7 L646.4 456.7 L623.8 478.5"/>
<path class="d" d="M463.7 557 L467 559.5"/>
<path class="d" d="M486 571.5 L492 575"/>
<path class="d" d="M548.1 533.8 L522 518.5"/>
<path class="d" d="M609.2 569.8 L627.7 579.6"/>
<ellipse class="hw" cx="475.8" cy="565.3" rx="8" ry="12.4" transform="rotate(25 475.8 565.3)"/>
<ellipse class="hw" cx="476.6" cy="565.8" rx="3.6" ry="6.6" transform="rotate(25 476.6 565.8)"/>
<path class="t" d="M469.9 573.5 L469.4 573 L469 572.4 L468.7 571.7 L468.4 571 L468.2 570.1 L468.1 569.3 L468.1 568.3 L468.2 567.3 L468.3 566.3 L468.5 565.3 L468.8 564.3 L469.2 563.3 L469.7 562.3 L470.2 561.3 L470.7 560.4 L471.3 559.5 L472 558.7 L472.7 558 L473.4 557.3 L474.1 556.8 L474.9 556.3 L475.6 556 L476.4 555.8 L477.1 555.6"/>
<ellipse class="hw" cx="503.7" cy="582.5" rx="6.7" ry="10.8" transform="rotate(22 503.7 582.5)"/>
<path d="M499.7 592.5 L509.5 596.4 L517.5 576.4 L507.7 572.5 Z" fill="#fff" stroke="none"/>
<line class="h" x1="499.7" y1="592.5" x2="509.5" y2="596.4"/>
<line class="h" x1="507.7" y1="572.5" x2="517.5" y2="576.4"/>
<ellipse class="hw" cx="513.5" cy="586.4" rx="6.7" ry="10.8" transform="rotate(22 513.5 586.4)"/>
<ellipse class="k" cx="514" cy="586.8" rx="4.4" ry="7" transform="rotate(22 514 586.8)"/>
<ellipse class="k" cx="514.6" cy="587.2" rx="2" ry="3.6" transform="rotate(22 514.6 587.2)"/>
<path class="k" d="M502.6 593.7 L501.9 593.3 L501.3 592.8 L500.7 592.2 L500.2 591.5 L499.8 590.7 L499.5 589.7 L499.3 588.7 L499.2 587.6 L499.2 586.5 L499.3 585.3 L499.5 584.1 L499.8 582.9 L500.2 581.7 L500.7 580.6 L501.2 579.5 L501.8 578.4 L502.5 577.4 L503.3 576.5 L504.1 575.7 L504.9 575 L505.7 574.4 L506.6 573.9 L507.5 573.6 L508.3 573.4"/>
<path class="k" d="M505.5 594.9 L504.8 594.5 L504.2 594 L503.7 593.4 L503.2 592.7 L502.8 591.8 L502.5 590.9 L502.3 589.9 L502.2 588.8 L502.2 587.7 L502.3 586.5 L502.5 585.3 L502.8 584.1 L503.1 582.9 L503.6 581.8 L504.2 580.6 L504.8 579.6 L505.5 578.6 L506.2 577.7 L507 576.8 L507.8 576.1 L508.7 575.6 L509.5 575.1 L510.4 574.8 L511.3 574.6"/>
<ellipse class="w" cx="552.9" cy="541" rx="7.6" ry="16.4" transform="rotate(19 552.9 541)"/>
<path d="M560 524.6 L574 528.5 L566 566 L551.7 556.9 Z" fill="#fff"/>
<path class="k" d="M559.9 524.6 L565.2 525.2 L572.2 528.8"/>
<path class="k" d="M551.7 556.9 L557.6 559.8"/>
<path class="k" d="M546.4 555.8 L545.7 555.1 L545.1 554.2 L544.7 553.1 L544.3 551.9 L544.1 550.5 L544 549 L544 547.3 L544.1 545.6 L544.4 543.8 L544.7 541.9 L545.2 540.1 L545.8 538.3 L546.5 536.5 L547.3 534.7 L548.1 533.1 L549.1 531.5 L550 530.1 L551.1 528.9 L552.1 527.8 L553.2 526.9 L554.2 526.2 L555.2 525.7 L556.2 525.4 L557.2 525.3"/>
<path class="k" d="M549.3 556.5 L548.9 556.1 L548.6 555.5 L548.3 554.9 L548 554.2 L547.8 553.5 L547.6 552.7 L547.5 551.9 L547.4 551 L547.4 550.1 L547.3 549.2 L547.4 548.2 L547.5 547.2 L547.6 546.1 L547.7 545.1 L547.9 544 L548.2 542.9 L548.5 541.8 L548.8 540.7 L549.1 539.7 L549.5 538.6 L549.9 537.5 L550.4 536.5 L550.9 535.5 L551.4 534.6"/>
<path class="k" d="M552.7 557.7 L552.3 557.2 L552 556.7 L551.7 556.1 L551.4 555.4 L551.2 554.7 L551 553.9 L550.9 553.1 L550.8 552.2 L550.8 551.3 L550.7 550.3 L550.8 549.4 L550.9 548.3 L551 547.3 L551.1 546.2 L551.3 545.2 L551.6 544.1 L551.9 543 L552.2 541.9 L552.5 540.8 L552.9 539.8 L553.3 538.7 L553.8 537.7 L554.3 536.7 L554.8 535.8"/>
<path class="w" d="M579.8 527 L596.3 535.2 L626.7 548.7 L600.9 594.4 L579.8 582.7 L563.4 570.9 C557.8 564.3 557.6 559.9 557.6 556.9 C557.6 546.7 561.6 541 564.6 537 C567.6 533 571 529.7 579.8 527 Z"/>
<ellipse class="w" cx="612.1" cy="565.1" rx="12.6" ry="29" transform="rotate(19 612.1 565.1)"/>
<path class="k" d="M578.6 584.8 L577.3 584.1 L576.2 582.9 L575.3 581.3 L574.5 579.5 L574 577.3 L573.6 574.8 L573.5 572.1 L573.6 569.1 L574 566.1 L574.5 562.9 L575.3 559.6 L576.2 556.4 L577.3 553.1 L578.6 550 L580 547 L581.6 544.2 L583.2 541.6 L585 539.3 L586.7 537.3 L588.5 535.6 L590.3 534.2 L592 533.3 L593.7 532.7 L595.3 532.5"/>
<path class="k" d="M578.1 574.9 L578.1 573.6 L578.1 572.2 L578.2 570.8 L578.3 569.4 L578.5 567.9 L578.7 566.4 L579 564.9 L579.3 563.3 L579.6 561.8 L580 560.2 L580.5 558.6 L581 557.1 L581.5 555.6 L582.1 554 L582.7 552.5 L583.3 551 L584 549.6 L584.7 548.2 L585.4 546.8 L586.1 545.5 L586.9 544.2 L587.7 543 L588.5 541.8 L589.3 540.7"/>
<path class="k" d="M599.3 535.1 L603.8 532.6"/>
<path class="k" d="M582.9 576.3 L582.9 574.9 L582.9 573.6 L583 572.1 L583.1 570.7 L583.3 569.2 L583.5 567.7 L583.8 566.2 L584.1 564.6 L584.4 563 L584.9 561.5 L585.3 559.9 L585.8 558.3 L586.3 556.8 L586.9 555.3 L587.5 553.7 L588.1 552.2 L588.8 550.8 L589.5 549.4 L590.2 548 L591 546.6 L591.8 545.4 L592.6 544.1 L593.4 542.9 L594.2 541.8"/>
<path class="k" d="M604.1 536.4 L608.6 533.9"/>
<path class="k" d="M587.7 577.6 L587.7 576.3 L587.7 574.9 L587.8 573.5 L587.9 572 L588.1 570.5 L588.3 569 L588.6 567.5 L588.9 565.9 L589.3 564.3 L589.7 562.7 L590.1 561.2 L590.6 559.6 L591.1 558 L591.7 556.5 L592.3 554.9 L593 553.4 L593.6 552 L594.3 550.5 L595.1 549.2 L595.8 547.8 L596.6 546.5 L597.4 545.3 L598.2 544.1 L599.1 543"/>
<path class="k" d="M609 537.6 L613.5 535.1"/>
<path class="k" d="M592.5 579 L592.5 577.7 L592.5 576.3 L592.6 574.8 L592.7 573.3 L592.9 571.8 L593.1 570.3 L593.4 568.8 L593.7 567.2 L594.1 565.6 L594.5 564 L594.9 562.4 L595.4 560.8 L596 559.3 L596.5 557.7 L597.2 556.2 L597.8 554.7 L598.5 553.2 L599.2 551.7 L599.9 550.3 L600.7 549 L601.5 547.7 L602.3 546.4 L603.1 545.2 L603.9 544.1"/>
<path class="k" d="M613.8 538.9 L618.3 536.4"/>
<path class="k" d="M623.7 563.6 L623.4 566.2 L622.9 568.9 L622.1 571.5 L621.1 574.2 L620 576.7 L618.7 579 L617.3 581.2 L615.7 583.1 L614.1 584.8 L612.4 586.2 L610.7 587.2 L609 587.9 L607.4 588.3 L605.8 588.3 L604.4 587.9 L603 587.2 L601.8 586.1 L600.8 584.7 L600 583 L599.4 581.1 L599 578.9 L598.8 576.5 L598.8 574 L599.1 571.4 L599.6 568.7 L600.3 566 L601.2 563.4 L602.3 560.9 L603.6 558.5 L605 556.3 L606.5 554.3 L608.1 552.5 L609.8 551.1 L611.5 550 L613.2 549.2 L614.8 548.8 L616.4 548.7 L617.9 549 L619.3 549.6 L620.5 550.6"/>
<ellipse class="w" cx="639.3" cy="588.8" rx="12.5" ry="18.4" transform="rotate(27 639.3 588.8)"/>
<path d="M630.9 605.2 L645.6 613 L662.4 580.2 L647.7 572.4 Z" fill="#fff" stroke="none"/>
<line class="k" x1="630.9" y1="605.2" x2="645.6" y2="613"/>
<line class="k" x1="647.7" y1="572.4" x2="662.4" y2="580.2"/>
<ellipse class="w" cx="654" cy="596.6" rx="12.5" ry="18.4" transform="rotate(27 654 596.6)"/>
<ellipse class="k" cx="655" cy="597" rx="10.4" ry="15.6" transform="rotate(27 655 597)"/>
<path class="k" d="M648 607 C648.3 605.5 648.8 600.8 650 598 C651.2 595.2 653.3 591.9 655 590 C656.7 588.1 659.2 587.1 660 586.5"/>
<path class="k" d="M653 586 C653.7 587 656.4 589.7 657 592 C657.6 594.3 657.3 597.5 656.5 600 C655.7 602.5 652.8 605.8 652 607"/>
<path class="k" d="M660 587.5 C660.2 588.8 661.6 592.6 661.5 595 C661.4 597.4 659.4 600.7 659.5 602 C659.6 603.3 661.6 602.8 662 603"/>
<path class="h" d="M646.3 605.2 L646.1 604.3 L645.9 603.4 L645.8 602.4 L645.7 601.3 L645.8 600.2 L646 599.1 L646.2 598 L646.5 596.8 L646.9 595.7 L647.3 594.6 L647.8 593.5 L648.4 592.4 L649.1 591.3 L649.8 590.3 L650.5 589.4 L651.3 588.6 L652.1 587.8 L652.9 587.1 L653.8 586.5 L654.7 585.9 L655.5 585.5 L656.4 585.2 L657.3 585 L658.1 584.9"/>
<ellipse class="w" cx="682.6" cy="612.6" rx="17.6" ry="25" transform="rotate(27 682.6 612.6)"/>
<ellipse class="w" cx="684.6" cy="613.6" rx="17" ry="24.2" transform="rotate(27 684.6 613.6)"/>
<ellipse class="k" cx="685.8" cy="614.4" rx="9.4" ry="15.2" transform="rotate(27 685.8 614.4)"/>
<path class="k" d="M682.8 627.2 L681.5 627.4 L680.3 627.5 L679.2 627.3 L678.2 626.8 L677.3 626.2 L676.6 625.3 L675.9 624.2 L675.5 623 L675.2 621.6 L675.1 620.1 L675.2 618.4 L675.5 616.8 L675.9 615 L676.5 613.3 L677.2 611.6 L678.1 610 L679.1 608.5 L680.2 607.1 L681.4 605.8 L682.7 604.7 L684 603.9 L685.3 603.2 L686.5 602.7 L687.8 602.5"/>
<ellipse class="w" cx="710.5" cy="631" rx="14.3" ry="33.5" transform="rotate(27 710.5 631)"/>
<path d="M695.3 660.8 L716.7 671.7 L747.1 612 L725.7 601.2 Z" fill="#fff" stroke="none"/>
<line class="k" x1="695.3" y1="660.8" x2="716.7" y2="671.7"/>
<line class="k" x1="725.7" y1="601.2" x2="747.1" y2="612"/>
<path class="t" d="M694.9 660.6 L716.2 671.5"/>
<path class="t" d="M693.7 659.7 L715.1 670.6"/>
<path class="t" d="M692.7 658.5 L714.1 669.3"/>
<path class="t" d="M691.9 656.9 L713.3 667.8"/>
<path class="t" d="M691.3 655.2 L712.7 666.1"/>
<path class="t" d="M690.9 653.1 L712.3 664"/>
<path class="t" d="M690.7 650.9 L712.1 661.7"/>
<path class="t" d="M690.7 648.4 L712.1 659.3"/>
<path class="t" d="M690.9 645.7 L712.3 656.6"/>
<path class="t" d="M691.3 642.9 L712.7 653.8"/>
<path class="t" d="M691.9 640 L713.3 650.9"/>
<path class="t" d="M692.8 636.9 L714.1 647.8"/>
<path class="t" d="M693.8 633.8 L715.1 644.7"/>
<path class="t" d="M694.9 630.7 L716.3 641.6"/>
<path class="t" d="M696.3 627.6 L717.7 638.5"/>
<path class="t" d="M697.8 624.5 L719.1 635.4"/>
<path class="t" d="M699.4 621.5 L720.8 632.4"/>
<path class="t" d="M701.1 618.6 L722.5 629.5"/>
<path class="t" d="M703 615.8 L724.3 626.7"/>
<path class="t" d="M704.9 613.2 L726.3 624.1"/>
<path class="t" d="M706.8 610.7 L728.2 621.6"/>
<path class="t" d="M708.9 608.5 L730.2 619.4"/>
<path class="t" d="M710.9 606.5 L732.3 617.4"/>
<path class="t" d="M712.9 604.8 L734.3 615.7"/>
<path class="t" d="M714.9 603.3 L736.3 614.2"/>
<path class="t" d="M716.9 602.1 L738.2 613"/>
<path class="t" d="M718.8 601.3 L740.1 612.2"/>
<path class="t" d="M720.6 600.7 L741.9 611.6"/>
<path class="t" d="M722.2 600.5 L743.6 611.4"/>
<path class="t" d="M723.8 600.5 L745.2 611.4"/>
<path class="t" d="M725.3 600.9 L746.6 611.8"/>
<ellipse class="w" cx="731.9" cy="641.9" rx="14.3" ry="33.5" transform="rotate(27 731.9 641.9)"/>
<ellipse class="w" cx="734.6" cy="643.3" rx="10.3" ry="22.5" transform="rotate(27 734.6 643.3)"/>
<path d="M724.3 663.3 L731.5 666.9 L751.9 626.8 L744.8 623.2 Z" fill="#fff" stroke="none"/>
<line class="k" x1="724.3" y1="663.3" x2="731.5" y2="666.9"/>
<line class="k" x1="744.8" y1="623.2" x2="751.9" y2="626.8"/>
<ellipse class="w" cx="741.7" cy="646.9" rx="10.3" ry="22.5" transform="rotate(27 741.7 646.9)"/>
<path class="k" d="M735.7 661.7 L735 661 L734.4 660.2 L734 659.1 L733.8 657.9 L733.7 656.5 L733.7 655 L733.9 653.3 L734.2 651.6 L734.7 649.8 L735.3 648 L736 646.2 L736.9 644.4 L737.8 642.7 L738.9 641.1 L740 639.5 L741.1 638.1 L742.3 636.8 L743.5 635.7 L744.7 634.8 L745.9 634 L747.1 633.5 L748.2 633.2 L749.2 633.2 L750.1 633.3"/>
<path class="k" d="M740.1 659.9 L739.6 659.4 L739.2 658.8 L738.9 657.9 L738.7 657 L738.6 655.9 L738.7 654.7 L738.8 653.5 L739.1 652.2 L739.4 650.8 L739.9 649.4 L740.5 648 L741.2 646.6 L741.9 645.3 L742.7 644 L743.5 642.8 L744.4 641.7 L745.3 640.7 L746.3 639.8 L747.2 639.1 L748.1 638.5 L749 638.1 L749.8 637.9 L750.6 637.8 L751.3 637.9"/>
<path d="M736.9 656.2 L748.5 662.1 L758 643.4 L746.5 637.5 Z" fill="#fff" stroke="none"/>
<line class="k" x1="736.9" y1="656.2" x2="748.5" y2="662.1"/>
<line class="k" x1="746.5" y1="637.5" x2="758" y2="643.4"/>
<ellipse class="w" cx="751.9" cy="652.1" rx="8.3" ry="15.3" transform="rotate(27 751.9 652.1)"/>
<path d="M745 665.7 L763.3 675 L777.1 647.8 L758.9 638.5 Z" fill="#fff" stroke="none"/>
<line class="k" x1="745" y1="665.7" x2="763.3" y2="675"/>
<line class="k" x1="758.9" y1="638.5" x2="777.1" y2="647.8"/>
<ellipse class="w" cx="770.2" cy="661.4" rx="8.3" ry="15.3" transform="rotate(27 770.2 661.4)"/>
<path class="k" d="M748.3 667.4 L747.4 666.8 L746.7 665.9 L746.1 664.8 L745.7 663.6 L745.5 662.2 L745.4 660.7 L745.4 659 L745.6 657.3 L746 655.5 L746.6 653.7 L747.3 651.9 L748.1 650.2 L749 648.4 L750.1 646.8 L751.2 645.3 L752.5 644 L753.7 642.8 L755 641.7 L756.3 640.9 L757.6 640.3 L758.8 639.9 L760 639.8 L761.2 639.9 L762.2 640.2"/>
<path class="k" d="M751.9 669.2 L751 668.6 L750.3 667.7 L749.7 666.7 L749.3 665.4 L749 664 L748.9 662.5 L749 660.9 L749.2 659.1 L749.6 657.4 L750.1 655.5 L750.8 653.7 L751.7 652 L752.6 650.3 L753.7 648.6 L754.8 647.1 L756 645.8 L757.3 644.6 L758.6 643.6 L759.9 642.7 L761.1 642.1 L762.4 641.8 L763.6 641.6 L764.7 641.7 L765.7 642"/>
<ellipse class="k" cx="770.6" cy="661.6" rx="6.2" ry="11" transform="rotate(27 770.6 661.6)"/>
<ellipse class="t" cx="771" cy="661.9" rx="4" ry="7.2" transform="rotate(27 771 661.9)"/>
<path class="k" d="M770.3 660.2 L770.7 659.7 L771.2 659.3 L771.7 659 L772.1 658.8 L772.6 658.8 L773 658.9 L773.3 659.1 L773.5 659.4 L773.7 659.8 L773.8 660.4 L773.8 661 L773.7 661.6 L773.5 662.2 L773.2 662.9 L772.9 663.5 L772.5 664.1 L772.1 664.6 L771.6 665 L771.1 665.2 L770.7 665.4 L770.2 665.4 L769.8 665.4 L769.5 665.1 L769.3 664.8"/>
<ellipse class="hw" cx="789.7" cy="673.8" rx="9.4" ry="15.8" transform="rotate(26 789.7 673.8)"/>
<ellipse class="k" cx="789.9" cy="673.9" rx="6" ry="11.6" transform="rotate(26 789.9 673.9)"/>
<ellipse class="hw" cx="574.6" cy="477.6" rx="13.4" ry="21.6" transform="rotate(27 574.6 477.6)"/>
<ellipse class="w" cx="576" cy="478.4" rx="12.6" ry="20.4" transform="rotate(27 576 478.4)"/>
<ellipse class="hw" cx="577" cy="478.6" rx="8.2" ry="14" transform="rotate(27 577 478.6)"/>
<path class="t" d="M575 478 L583 482"/>
<ellipse class="hw" cx="595.2" cy="491.6" rx="5.2" ry="12.4" transform="rotate(27 595.2 491.6)"/>
<path d="M589.6 502.6 L600.3 508.1 L611.5 486 L600.8 480.6 Z" fill="#fff" stroke="none"/>
<line class="h" x1="589.6" y1="502.6" x2="600.3" y2="508.1"/>
<line class="h" x1="600.8" y1="480.6" x2="611.5" y2="486"/>
<ellipse class="hw" cx="605.9" cy="497" rx="5.2" ry="12.4" transform="rotate(27 605.9 497)"/>
<path class="k" d="M593.1 504.5 L592.6 504.1 L592.1 503.5 L591.8 502.7 L591.6 501.8 L591.5 500.7 L591.5 499.6 L591.7 498.3 L591.9 496.9 L592.3 495.5 L592.8 494 L593.4 492.5 L594.1 491.1 L594.9 489.6 L595.7 488.3 L596.6 487 L597.6 485.8 L598.5 484.8 L599.5 483.9 L600.4 483.2 L601.3 482.7 L602.2 482.3 L603 482.1 L603.7 482.2 L604.4 482.4"/>
<path class="k" d="M596.7 506.3 L596.1 505.9 L595.7 505.3 L595.4 504.5 L595.1 503.6 L595 502.6 L595.1 501.4 L595.2 500.1 L595.5 498.7 L595.9 497.3 L596.4 495.8 L597 494.3 L597.7 492.9 L598.5 491.4 L599.3 490.1 L600.2 488.8 L601.1 487.7 L602.1 486.6 L603 485.8 L604 485 L604.9 484.5 L605.8 484.1 L606.6 483.9 L607.3 484 L608 484.2"/>
<ellipse class="hw" cx="605.9" cy="497" rx="9.8" ry="19.6" transform="rotate(27 605.9 497)"/>
<path d="M597 514.5 L601.9 517 L619.7 482.1 L614.8 479.6 Z" fill="#fff" stroke="none"/>
<line class="h" x1="597" y1="514.5" x2="601.9" y2="517"/>
<line class="h" x1="614.8" y1="479.6" x2="619.7" y2="482.1"/>
<ellipse class="hw" cx="610.8" cy="499.5" rx="9.8" ry="19.6" transform="rotate(27 610.8 499.5)"/>
<path class="k" d="M615.9 485.6 L617.7 485.1 L619.3 485.1 L620.7 485.5 L622 486.4 L622.9 487.8 L623.5 489.5 L623.9 491.6 L623.9 493.9 L623.5 496.5 L622.9 499.2 L621.9 501.9 L620.7 504.6 L619.2 507.2 L617.6 509.5 L615.8 511.6 L613.9 513.4 L612 514.8 L610.2 515.7 L608.4 516.2 L606.8 516.3 L605.3 515.8 L604.1 514.9 L603.1 513.6 L602.5 511.8"/>
<path class="hw" d="M604.7 501.8 L613.6 490.2 L626.6 491.8 L634.1 497.3 L633.4 509.3 L625.2 519.6 L614.3 516.4 L605.4 512 Z"/>
<path class="k" d="M604.7 501.8 L614.3 506.6 L614.3 516.4"/>
<path class="k" d="M614.3 506.6 L621.1 494.3 L613.6 490.2"/>
<ellipse class="k" cx="625.2" cy="506.6" rx="8.2" ry="12" transform="rotate(10 625.2 506.6)"/>
<path class="t" d="M615.6 484.7 C616.5 484.3 619.4 482.6 621.1 482.6 C622.8 482.6 625.1 484.3 625.9 484.7"/>
</g>

<!-- 90_labels.svg -->
<g id="labels">
<text x="226" y="91.5" transform="translate(0 91.5) scale(1 1.04) translate(0 -91.5)">33</text>
<text x="271" y="117.5" transform="translate(0 117.5) scale(1 1.04) translate(0 -117.5)">34</text>
<text x="325" y="103.5" transform="translate(0 103.5) scale(1 1.04) translate(0 -103.5)">2.1</text>
<text x="342" y="142.5" transform="translate(0 142.5) scale(1 1.04) translate(0 -142.5)">5</text>
<text x="341" y="208.5" transform="translate(0 208.5) scale(1 1.04) translate(0 -208.5)">4</text>
<text x="341" y="251.5" transform="translate(0 251.5) scale(1 1.04) translate(0 -251.5)">6</text>
<text x="510" y="210.5" transform="translate(0 210.5) scale(1 1.04) translate(0 -210.5)">9</text>
<text x="342" y="326.5" transform="translate(0 326.5) scale(1 1.04) translate(0 -326.5)">3</text>
<text x="518" y="325.5" transform="translate(0 325.5) scale(1 1.04) translate(0 -325.5)">28.1</text>
<text x="555" y="307.5" transform="translate(0 307.5) scale(1 1.04) translate(0 -307.5)">29</text>
<text x="585" y="295.5" transform="translate(0 295.5) scale(1 1.04) translate(0 -295.5)">30</text>
<text x="615" y="277.5" transform="translate(0 277.5) scale(1 1.04) translate(0 -277.5)">31</text>
<text x="641" y="254.5" transform="translate(0 254.5) scale(1 1.04) translate(0 -254.5)">27</text>
<text x="665" y="241.5" transform="translate(0 241.5) scale(1 1.04) translate(0 -241.5)">28</text>
<text x="689" y="227.5" transform="translate(0 227.5) scale(1 1.04) translate(0 -227.5)">29</text>
<text x="714" y="215.5" transform="translate(0 215.5) scale(1 1.04) translate(0 -215.5)">32</text>
<text x="142" y="332.5" transform="translate(0 332.5) scale(1 1.04) translate(0 -332.5)">8</text>
<text x="297" y="380.5" transform="translate(0 380.5) scale(1 1.04) translate(0 -380.5)">1</text>
<text x="224" y="428.5" transform="translate(0 428.5) scale(1 1.04) translate(0 -428.5)">14</text>
<text x="196" y="445.5" transform="translate(0 445.5) scale(1 1.04) translate(0 -445.5)">16</text>
<text x="166" y="462.5" transform="translate(0 462.5) scale(1 1.04) translate(0 -462.5)">17</text>
<text x="132" y="481.5" transform="translate(0 481.5) scale(1 1.04) translate(0 -481.5)">10</text>
<text x="235" y="529.5" transform="translate(0 529.5) scale(1 1.04) translate(0 -529.5)">15</text>
<text x="262" y="514.5" transform="translate(0 514.5) scale(1 1.04) translate(0 -514.5)">13</text>
<text x="278" y="532.5" transform="translate(0 532.5) scale(1 1.04) translate(0 -532.5)">4</text>
<text x="307" y="516.5" transform="translate(0 516.5) scale(1 1.04) translate(0 -516.5)">6</text>
<text x="244" y="551.5" transform="translate(0 551.5) scale(1 1.04) translate(0 -551.5)">5</text>
<text x="210" y="572.5" transform="translate(0 572.5) scale(1 1.04) translate(0 -572.5)">2</text>
<text x="620" y="442.5" transform="translate(0 442.5) scale(1 1.04) translate(0 -442.5)">42</text>
<text x="655" y="461.5" transform="translate(0 461.5) scale(1 1.04) translate(0 -461.5)">7</text>
<text x="294" y="709.6" transform="translate(0 709.6) scale(1 1.04) translate(0 -709.6)">44</text>
<text x="373" y="709.6" transform="translate(0 709.6) scale(1 1.04) translate(0 -709.6)">43</text>
<text x="459" y="709.6" transform="translate(0 709.6) scale(1 1.04) translate(0 -709.6)">11</text>
<text x="498" y="709.6" transform="translate(0 709.6) scale(1 1.04) translate(0 -709.6)">12</text>
<text x="543" y="709.6" transform="translate(0 709.6) scale(1 1.04) translate(0 -709.6)">46</text>
<text x="583" y="709.6" transform="translate(0 709.6) scale(1 1.04) translate(0 -709.6)">47</text>
<text x="627" y="709.6" transform="translate(0 709.6) scale(1 1.04) translate(0 -709.6)">48</text>
<text x="667" y="709.6" transform="translate(0 709.6) scale(1 1.04) translate(0 -709.6)">49</text>
<text x="708" y="710.6" transform="translate(0 710.6) scale(1 1.04) translate(0 -710.6)">5O</text>
</g>

<!-- 95_redbox.svg -->
<g id="redbox">
<line class="r" x1="315" y1="283.2" x2="564" y2="282"/>
<line class="r" x1="318" y1="286" x2="317" y2="549"/>
<line class="r" x1="564" y1="283" x2="563" y2="545"/>
<line class="r" x1="319" y1="544" x2="563" y2="545"/>
<line x1="294" y1="385" x2="320" y2="385" stroke="#f00" stroke-width="3.6"/>
</g>

</svg>
</body></html>
